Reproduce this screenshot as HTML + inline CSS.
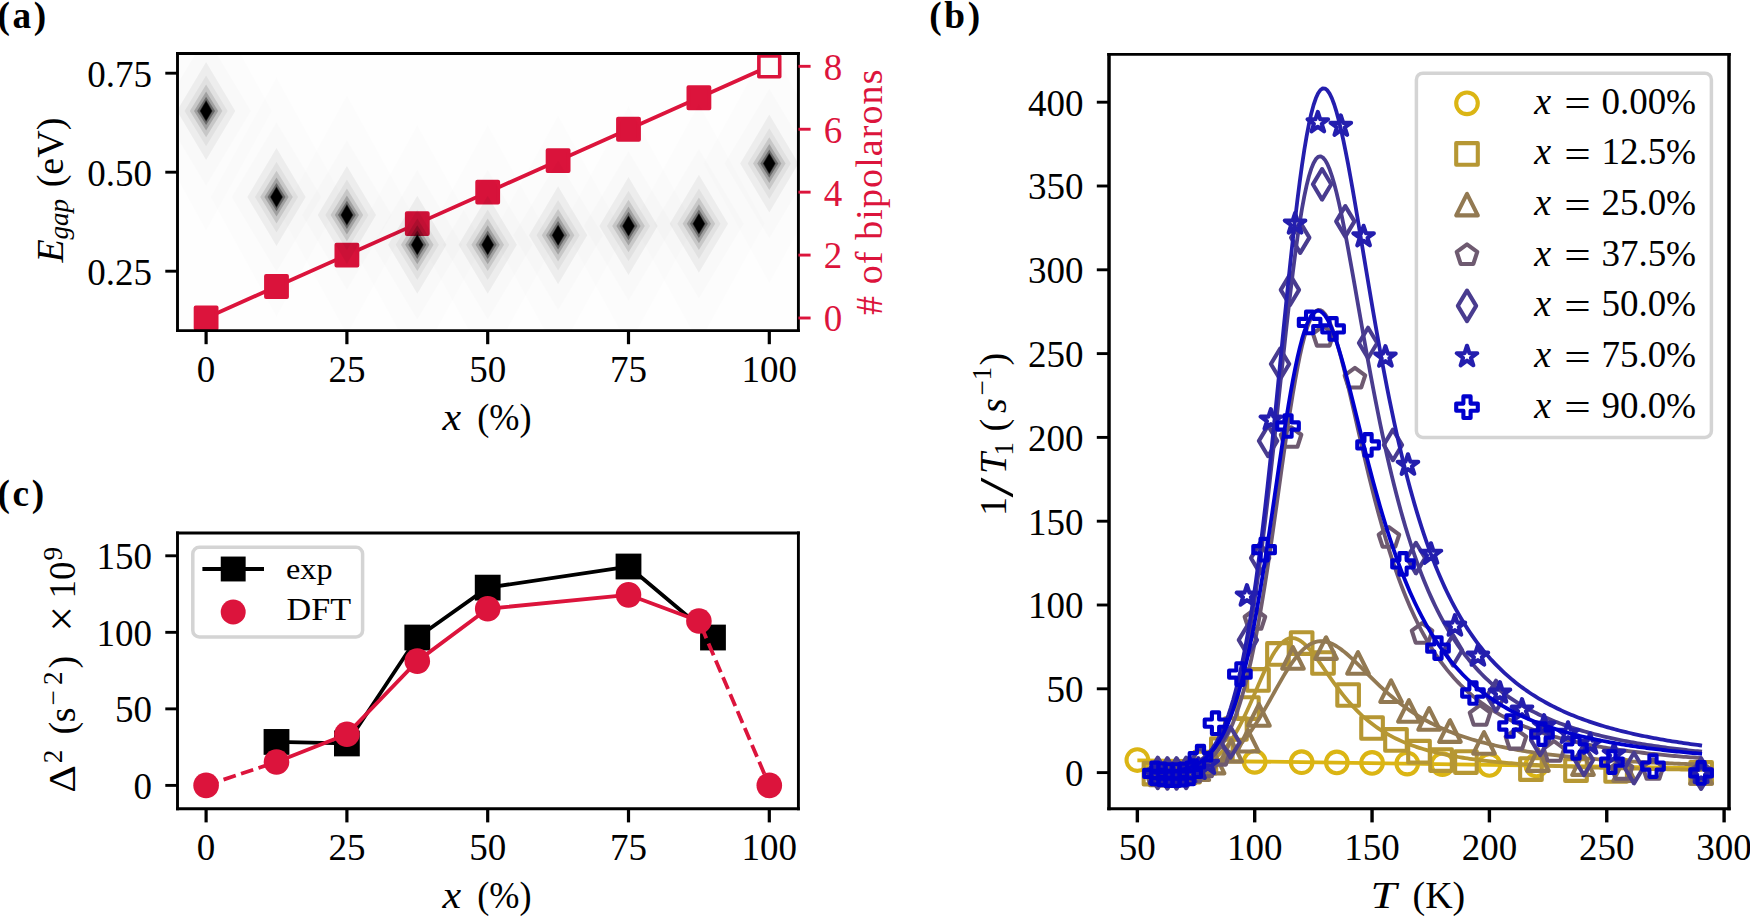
<!DOCTYPE html>
<html lang="en"><head><meta charset="utf-8"><title>Figure</title>
<style>html,body{margin:0;padding:0;background:#fff}svg{display:block}</style></head>
<body>
<svg width="1750" height="917" viewBox="0 0 1750 917" font-family='"Liberation Serif", "DejaVu Serif", serif'>
<rect width="1750" height="917" fill="#fff"/>
<clipPath id="ca"><rect x="177.5" y="53.5" width="620.9" height="277.1"/></clipPath>
<g clip-path="url(#ca)">
<rect x="177.5" y="53.5" width="620.9" height="277.1" fill="#fefefe"/>
<polyline points="206.1,318 276.5,286.54 346.9,255.08 417.3,223.62 487.7,192.16 558.1,160.7 628.5,129.24 698.9,97.78 769.3,66.32" fill="none" stroke="#DC143C" stroke-width="3.8"/>
<rect x="195.69" y="307.58" width="20.83" height="20.83" fill="#DC143C" stroke="#DC143C" stroke-width="4" stroke-linejoin="round"/>
<rect x="266.08" y="276.12" width="20.83" height="20.83" fill="#DC143C" stroke="#DC143C" stroke-width="4" stroke-linejoin="round"/>
<rect x="336.48" y="244.66" width="20.83" height="20.83" fill="#DC143C" stroke="#DC143C" stroke-width="4" stroke-linejoin="round"/>
<rect x="406.88" y="213.21" width="20.83" height="20.83" fill="#DC143C" stroke="#DC143C" stroke-width="4" stroke-linejoin="round"/>
<rect x="477.28" y="181.75" width="20.83" height="20.83" fill="#DC143C" stroke="#DC143C" stroke-width="4" stroke-linejoin="round"/>
<rect x="547.69" y="150.28" width="20.83" height="20.83" fill="#DC143C" stroke="#DC143C" stroke-width="4" stroke-linejoin="round"/>
<rect x="618.09" y="118.83" width="20.83" height="20.83" fill="#DC143C" stroke="#DC143C" stroke-width="4" stroke-linejoin="round"/>
<rect x="688.49" y="87.37" width="20.83" height="20.83" fill="#DC143C" stroke="#DC143C" stroke-width="4" stroke-linejoin="round"/>
<rect x="758.88" y="55.9" width="20.83" height="20.83" fill="#fff" stroke="#DC143C" stroke-width="3.6" stroke-linejoin="round"/>
<polygon points="206.1,-9.1 272.1,110.9 206.1,230.9 140.1,110.9" fill="#000" fill-opacity="0.006"/>
<polygon points="206.1,35.9 251.1,110.9 206.1,185.9 161.1,110.9" fill="#000" fill-opacity="0.012"/>
<polygon points="206.1,61.9 235.3,110.9 206.1,159.9 176.9,110.9" fill="#000" fill-opacity="0.0464"/>
<polygon points="206.1,75.6 227.7,110.9 206.1,146.2 184.5,110.9" fill="#000" fill-opacity="0.0486"/>
<polygon points="206.1,84.6 222.4,110.9 206.1,137.2 189.8,110.9" fill="#000" fill-opacity="0.1136"/>
<polygon points="206.1,91.4 218.2,110.9 206.1,130.4 194,110.9" fill="#000" fill-opacity="0.1923"/>
<polygon points="206.1,96.7 215.1,110.9 206.1,125.1 197.1,110.9" fill="#000" fill-opacity="0.3333"/>
<polygon points="206.1,100.1 212.5,110.9 206.1,121.7 199.7,110.9" fill="#000" fill-opacity="0.5714"/>
<polygon points="206.1,101.2 211.8,110.9 206.1,120.6 200.4,110.9" fill="#000" fill-opacity="1.0"/>
<polygon points="276.5,77.1 342.5,197.1 276.5,317.1 210.5,197.1" fill="#000" fill-opacity="0.006"/>
<polygon points="276.5,122.1 321.5,197.1 276.5,272.1 231.5,197.1" fill="#000" fill-opacity="0.012"/>
<polygon points="276.5,148.1 305.7,197.1 276.5,246.1 247.3,197.1" fill="#000" fill-opacity="0.0464"/>
<polygon points="276.5,161.8 298.1,197.1 276.5,232.4 254.9,197.1" fill="#000" fill-opacity="0.0486"/>
<polygon points="276.5,170.8 292.8,197.1 276.5,223.4 260.2,197.1" fill="#000" fill-opacity="0.1136"/>
<polygon points="276.5,177.6 288.6,197.1 276.5,216.6 264.4,197.1" fill="#000" fill-opacity="0.1923"/>
<polygon points="276.5,182.9 285.5,197.1 276.5,211.3 267.5,197.1" fill="#000" fill-opacity="0.3333"/>
<polygon points="276.5,186.3 282.9,197.1 276.5,207.9 270.1,197.1" fill="#000" fill-opacity="0.5714"/>
<polygon points="276.5,187.4 282.2,197.1 276.5,206.8 270.8,197.1" fill="#000" fill-opacity="1.0"/>
<polygon points="346.9,94.9 412.9,214.9 346.9,334.9 280.9,214.9" fill="#000" fill-opacity="0.006"/>
<polygon points="346.9,139.9 391.9,214.9 346.9,289.9 301.9,214.9" fill="#000" fill-opacity="0.012"/>
<polygon points="346.9,165.9 376.1,214.9 346.9,263.9 317.7,214.9" fill="#000" fill-opacity="0.0464"/>
<polygon points="346.9,179.6 368.5,214.9 346.9,250.2 325.3,214.9" fill="#000" fill-opacity="0.0486"/>
<polygon points="346.9,188.6 363.2,214.9 346.9,241.2 330.6,214.9" fill="#000" fill-opacity="0.1136"/>
<polygon points="346.9,195.4 359,214.9 346.9,234.4 334.8,214.9" fill="#000" fill-opacity="0.1923"/>
<polygon points="346.9,200.7 355.9,214.9 346.9,229.1 337.9,214.9" fill="#000" fill-opacity="0.3333"/>
<polygon points="346.9,204.1 353.3,214.9 346.9,225.7 340.5,214.9" fill="#000" fill-opacity="0.5714"/>
<polygon points="346.9,205.2 352.6,214.9 346.9,224.6 341.2,214.9" fill="#000" fill-opacity="1.0"/>
<polygon points="417.3,124.8 483.3,244.8 417.3,364.8 351.3,244.8" fill="#000" fill-opacity="0.006"/>
<polygon points="417.3,169.8 462.3,244.8 417.3,319.8 372.3,244.8" fill="#000" fill-opacity="0.012"/>
<polygon points="417.3,195.8 446.5,244.8 417.3,293.8 388.1,244.8" fill="#000" fill-opacity="0.0464"/>
<polygon points="417.3,209.5 438.9,244.8 417.3,280.1 395.7,244.8" fill="#000" fill-opacity="0.0486"/>
<polygon points="417.3,218.5 433.6,244.8 417.3,271.1 401,244.8" fill="#000" fill-opacity="0.1136"/>
<polygon points="417.3,225.3 429.4,244.8 417.3,264.3 405.2,244.8" fill="#000" fill-opacity="0.1923"/>
<polygon points="417.3,230.6 426.3,244.8 417.3,259 408.3,244.8" fill="#000" fill-opacity="0.3333"/>
<polygon points="417.3,234 423.7,244.8 417.3,255.6 410.9,244.8" fill="#000" fill-opacity="0.5714"/>
<polygon points="417.3,235.1 423,244.8 417.3,254.5 411.6,244.8" fill="#000" fill-opacity="1.0"/>
<polygon points="487.7,124.8 553.7,244.8 487.7,364.8 421.7,244.8" fill="#000" fill-opacity="0.006"/>
<polygon points="487.7,169.8 532.7,244.8 487.7,319.8 442.7,244.8" fill="#000" fill-opacity="0.012"/>
<polygon points="487.7,195.8 516.9,244.8 487.7,293.8 458.5,244.8" fill="#000" fill-opacity="0.0464"/>
<polygon points="487.7,209.5 509.3,244.8 487.7,280.1 466.1,244.8" fill="#000" fill-opacity="0.0486"/>
<polygon points="487.7,218.5 504,244.8 487.7,271.1 471.4,244.8" fill="#000" fill-opacity="0.1136"/>
<polygon points="487.7,225.3 499.8,244.8 487.7,264.3 475.6,244.8" fill="#000" fill-opacity="0.1923"/>
<polygon points="487.7,230.6 496.7,244.8 487.7,259 478.7,244.8" fill="#000" fill-opacity="0.3333"/>
<polygon points="487.7,234 494.1,244.8 487.7,255.6 481.3,244.8" fill="#000" fill-opacity="0.5714"/>
<polygon points="487.7,235.1 493.4,244.8 487.7,254.5 482,244.8" fill="#000" fill-opacity="1.0"/>
<polygon points="558.1,115.2 624.1,235.2 558.1,355.2 492.1,235.2" fill="#000" fill-opacity="0.006"/>
<polygon points="558.1,160.2 603.1,235.2 558.1,310.2 513.1,235.2" fill="#000" fill-opacity="0.012"/>
<polygon points="558.1,186.2 587.3,235.2 558.1,284.2 528.9,235.2" fill="#000" fill-opacity="0.0464"/>
<polygon points="558.1,199.9 579.7,235.2 558.1,270.5 536.5,235.2" fill="#000" fill-opacity="0.0486"/>
<polygon points="558.1,208.9 574.4,235.2 558.1,261.5 541.8,235.2" fill="#000" fill-opacity="0.1136"/>
<polygon points="558.1,215.7 570.2,235.2 558.1,254.7 546,235.2" fill="#000" fill-opacity="0.1923"/>
<polygon points="558.1,221 567.1,235.2 558.1,249.4 549.1,235.2" fill="#000" fill-opacity="0.3333"/>
<polygon points="558.1,224.4 564.5,235.2 558.1,246 551.7,235.2" fill="#000" fill-opacity="0.5714"/>
<polygon points="558.1,225.5 563.8,235.2 558.1,244.9 552.4,235.2" fill="#000" fill-opacity="1.0"/>
<polygon points="628.5,106 694.5,226 628.5,346 562.5,226" fill="#000" fill-opacity="0.006"/>
<polygon points="628.5,151 673.5,226 628.5,301 583.5,226" fill="#000" fill-opacity="0.012"/>
<polygon points="628.5,177 657.7,226 628.5,275 599.3,226" fill="#000" fill-opacity="0.0464"/>
<polygon points="628.5,190.7 650.1,226 628.5,261.3 606.9,226" fill="#000" fill-opacity="0.0486"/>
<polygon points="628.5,199.7 644.8,226 628.5,252.3 612.2,226" fill="#000" fill-opacity="0.1136"/>
<polygon points="628.5,206.5 640.6,226 628.5,245.5 616.4,226" fill="#000" fill-opacity="0.1923"/>
<polygon points="628.5,211.8 637.5,226 628.5,240.2 619.5,226" fill="#000" fill-opacity="0.3333"/>
<polygon points="628.5,215.2 634.9,226 628.5,236.8 622.1,226" fill="#000" fill-opacity="0.5714"/>
<polygon points="628.5,216.3 634.2,226 628.5,235.7 622.8,226" fill="#000" fill-opacity="1.0"/>
<polygon points="698.9,103.7 764.9,223.7 698.9,343.7 632.9,223.7" fill="#000" fill-opacity="0.006"/>
<polygon points="698.9,148.7 743.9,223.7 698.9,298.7 653.9,223.7" fill="#000" fill-opacity="0.012"/>
<polygon points="698.9,174.7 728.1,223.7 698.9,272.7 669.7,223.7" fill="#000" fill-opacity="0.0464"/>
<polygon points="698.9,188.4 720.5,223.7 698.9,259 677.3,223.7" fill="#000" fill-opacity="0.0486"/>
<polygon points="698.9,197.4 715.2,223.7 698.9,250 682.6,223.7" fill="#000" fill-opacity="0.1136"/>
<polygon points="698.9,204.2 711,223.7 698.9,243.2 686.8,223.7" fill="#000" fill-opacity="0.1923"/>
<polygon points="698.9,209.5 707.9,223.7 698.9,237.9 689.9,223.7" fill="#000" fill-opacity="0.3333"/>
<polygon points="698.9,212.9 705.3,223.7 698.9,234.5 692.5,223.7" fill="#000" fill-opacity="0.5714"/>
<polygon points="698.9,214 704.6,223.7 698.9,233.4 693.2,223.7" fill="#000" fill-opacity="1.0"/>
<polygon points="769.3,43.6 835.3,163.6 769.3,283.6 703.3,163.6" fill="#000" fill-opacity="0.006"/>
<polygon points="769.3,88.6 814.3,163.6 769.3,238.6 724.3,163.6" fill="#000" fill-opacity="0.012"/>
<polygon points="769.3,114.6 798.5,163.6 769.3,212.6 740.1,163.6" fill="#000" fill-opacity="0.0464"/>
<polygon points="769.3,128.3 790.9,163.6 769.3,198.9 747.7,163.6" fill="#000" fill-opacity="0.0486"/>
<polygon points="769.3,137.3 785.6,163.6 769.3,189.9 753,163.6" fill="#000" fill-opacity="0.1136"/>
<polygon points="769.3,144.1 781.4,163.6 769.3,183.1 757.2,163.6" fill="#000" fill-opacity="0.1923"/>
<polygon points="769.3,149.4 778.3,163.6 769.3,177.8 760.3,163.6" fill="#000" fill-opacity="0.3333"/>
<polygon points="769.3,152.8 775.7,163.6 769.3,174.4 762.9,163.6" fill="#000" fill-opacity="0.5714"/>
<polygon points="769.3,153.9 775,163.6 769.3,173.3 763.6,163.6" fill="#000" fill-opacity="1.0"/>
</g>
<line x1="177.5" y1="52.05" x2="177.5" y2="332.05" stroke="#000" stroke-width="2.9"/>
<line x1="798.4" y1="52.05" x2="798.4" y2="332.05" stroke="#000" stroke-width="2.9"/>
<line x1="176.05" y1="53.5" x2="799.85" y2="53.5" stroke="#000" stroke-width="2.9"/>
<line x1="176.05" y1="330.6" x2="799.85" y2="330.6" stroke="#000" stroke-width="2.9"/>
<line x1="206.1" y1="330.6" x2="206.1" y2="344.2" stroke="#000" stroke-width="3.2"/>
<text x="206.1" y="382" font-size="37" text-anchor="middle" fill="#000">0</text>
<line x1="346.9" y1="330.6" x2="346.9" y2="344.2" stroke="#000" stroke-width="3.2"/>
<text x="346.9" y="382" font-size="37" text-anchor="middle" fill="#000">25</text>
<line x1="487.7" y1="330.6" x2="487.7" y2="344.2" stroke="#000" stroke-width="3.2"/>
<text x="487.7" y="382" font-size="37" text-anchor="middle" fill="#000">50</text>
<line x1="628.5" y1="330.6" x2="628.5" y2="344.2" stroke="#000" stroke-width="3.2"/>
<text x="628.5" y="382" font-size="37" text-anchor="middle" fill="#000">75</text>
<line x1="769.3" y1="330.6" x2="769.3" y2="344.2" stroke="#000" stroke-width="3.2"/>
<text x="769.3" y="382" font-size="37" text-anchor="middle" fill="#000">100</text>
<line x1="165.3" y1="73.2" x2="177.5" y2="73.2" stroke="#000" stroke-width="2.9"/>
<text x="151.9" y="86.6" font-size="37" text-anchor="end" fill="#000">0.75</text>
<line x1="165.3" y1="172.2" x2="177.5" y2="172.2" stroke="#000" stroke-width="2.9"/>
<text x="151.9" y="185.6" font-size="37" text-anchor="end" fill="#000">0.50</text>
<line x1="165.3" y1="271.2" x2="177.5" y2="271.2" stroke="#000" stroke-width="2.9"/>
<text x="151.9" y="284.6" font-size="37" text-anchor="end" fill="#000">0.25</text>
<line x1="798.4" y1="318" x2="810.6" y2="318" stroke="#DC143C" stroke-width="2.9"/>
<text x="823.7" y="331.4" font-size="37" text-anchor="start" fill="#DC143C">0</text>
<line x1="798.4" y1="255.08" x2="810.6" y2="255.08" stroke="#DC143C" stroke-width="2.9"/>
<text x="823.7" y="268.48" font-size="37" text-anchor="start" fill="#DC143C">2</text>
<line x1="798.4" y1="192.16" x2="810.6" y2="192.16" stroke="#DC143C" stroke-width="2.9"/>
<text x="823.7" y="205.56" font-size="37" text-anchor="start" fill="#DC143C">4</text>
<line x1="798.4" y1="129.24" x2="810.6" y2="129.24" stroke="#DC143C" stroke-width="2.9"/>
<text x="823.7" y="142.64" font-size="37" text-anchor="start" fill="#DC143C">6</text>
<line x1="798.4" y1="66.32" x2="810.6" y2="66.32" stroke="#DC143C" stroke-width="2.9"/>
<text x="823.7" y="79.72" font-size="37" text-anchor="start" fill="#DC143C">8</text>
<text x="442.5" y="430.3" font-size="38" text-anchor="start" fill="#000" font-style="italic" textLength="18.6" lengthAdjust="spacingAndGlyphs">x</text>
<text x="477.3" y="430.3" font-size="38" text-anchor="start" fill="#000" textLength="54.3" lengthAdjust="spacingAndGlyphs">(%)</text>
<g transform="translate(63.4,262.6) rotate(-90)">
<text x="0" y="0" font-size="38" text-anchor="start" fill="#000" font-style="italic">E</text>
<text x="23" y="4.6" font-size="27" text-anchor="start" fill="#000" font-style="italic">gap</text>
<text x="75.3" y="0" font-size="38" text-anchor="start" fill="#000">(eV)</text>
</g>
<g transform="translate(881.6,314.9) rotate(-90)">
<text x="0" y="0" font-size="38" text-anchor="start" fill="#DC143C" textLength="245.4" lengthAdjust="spacing"># of bipolarons</text>
</g>
<text x="-2.5" y="28" font-size="37.3" text-anchor="start" fill="#000" font-weight="bold" textLength="48.6" lengthAdjust="spacing">(a)</text>
<clipPath id="cc"><rect x="177.5" y="533" width="620.9" height="275.8"/></clipPath>
<g clip-path="url(#cc)">
<polyline points="276.5,741.93 346.9,743.46 417.3,637.53 487.7,587.63 628.5,566.51 712.98,637.53" fill="none" stroke="#000" stroke-width="3.8" stroke-linejoin="round"/>
<rect x="263.6" y="729.03" width="25.8" height="25.8" fill="#000"/>
<rect x="334" y="730.56" width="25.8" height="25.8" fill="#000"/>
<rect x="404.4" y="624.63" width="25.8" height="25.8" fill="#000"/>
<rect x="474.8" y="574.73" width="25.8" height="25.8" fill="#000"/>
<rect x="615.6" y="553.61" width="25.8" height="25.8" fill="#000"/>
<rect x="700.08" y="624.63" width="25.8" height="25.8" fill="#000"/>
<polyline points="276.5,761.98 346.9,734.27 417.3,661.11 487.7,608.76 628.5,594.83 698.9,621" fill="none" stroke="#DC143C" stroke-width="3.8" stroke-linejoin="round"/>
<polyline points="206.1,785.4 276.5,761.98" fill="none" stroke="#DC143C" stroke-width="3.8" stroke-dasharray="12.85 5.55"/>
<polyline points="769.3,785.4 698.9,621" fill="none" stroke="#DC143C" stroke-width="3.8" stroke-dasharray="12.85 5.55" stroke-dashoffset="5.65"/>
<circle cx="206.1" cy="785.4" r="12.8" fill="#DC143C"/>
<circle cx="276.5" cy="761.98" r="12.8" fill="#DC143C"/>
<circle cx="346.9" cy="734.27" r="12.8" fill="#DC143C"/>
<circle cx="417.3" cy="661.11" r="12.8" fill="#DC143C"/>
<circle cx="487.7" cy="608.76" r="12.8" fill="#DC143C"/>
<circle cx="628.5" cy="594.83" r="12.8" fill="#DC143C"/>
<circle cx="698.9" cy="621" r="12.8" fill="#DC143C"/>
<circle cx="769.3" cy="785.4" r="12.8" fill="#DC143C"/>
</g>
<rect x="192.8" y="547.3" width="169.8" height="89.6" rx="6.5" fill="#fff" fill-opacity="0.8" stroke="#d4d4d4" stroke-width="3.5"/>
<line x1="202.4" y1="569" x2="264" y2="569" stroke="#000" stroke-width="3.8"/>
<rect x="220.75" y="556.55" width="24.9" height="24.9" fill="#000"/>
<circle cx="233.2" cy="612" r="12.5" fill="#DC143C"/>
<text x="286" y="579" font-size="30" text-anchor="start" fill="#000" textLength="46.5" lengthAdjust="spacingAndGlyphs">exp</text>
<text x="286.6" y="620" font-size="30.5" text-anchor="start" fill="#000" textLength="64.5" lengthAdjust="spacingAndGlyphs">DFT</text>
<line x1="177.5" y1="531.55" x2="177.5" y2="810.25" stroke="#000" stroke-width="2.9"/>
<line x1="798.4" y1="531.55" x2="798.4" y2="810.25" stroke="#000" stroke-width="2.9"/>
<line x1="176.05" y1="533" x2="799.85" y2="533" stroke="#000" stroke-width="2.9"/>
<line x1="176.05" y1="808.8" x2="799.85" y2="808.8" stroke="#000" stroke-width="2.9"/>
<line x1="206.1" y1="808.8" x2="206.1" y2="822.4" stroke="#000" stroke-width="3.2"/>
<text x="206.1" y="860.2" font-size="37" text-anchor="middle" fill="#000">0</text>
<line x1="346.9" y1="808.8" x2="346.9" y2="822.4" stroke="#000" stroke-width="3.2"/>
<text x="346.9" y="860.2" font-size="37" text-anchor="middle" fill="#000">25</text>
<line x1="487.7" y1="808.8" x2="487.7" y2="822.4" stroke="#000" stroke-width="3.2"/>
<text x="487.7" y="860.2" font-size="37" text-anchor="middle" fill="#000">50</text>
<line x1="628.5" y1="808.8" x2="628.5" y2="822.4" stroke="#000" stroke-width="3.2"/>
<text x="628.5" y="860.2" font-size="37" text-anchor="middle" fill="#000">75</text>
<line x1="769.3" y1="808.8" x2="769.3" y2="822.4" stroke="#000" stroke-width="3.2"/>
<text x="769.3" y="860.2" font-size="37" text-anchor="middle" fill="#000">100</text>
<line x1="165.3" y1="785.4" x2="177.5" y2="785.4" stroke="#000" stroke-width="2.9"/>
<text x="151.9" y="798.8" font-size="37" text-anchor="end" fill="#000">0</text>
<line x1="165.3" y1="708.87" x2="177.5" y2="708.87" stroke="#000" stroke-width="2.9"/>
<text x="151.9" y="722.26" font-size="37" text-anchor="end" fill="#000">50</text>
<line x1="165.3" y1="632.33" x2="177.5" y2="632.33" stroke="#000" stroke-width="2.9"/>
<text x="151.9" y="645.73" font-size="37" text-anchor="end" fill="#000">100</text>
<line x1="165.3" y1="555.79" x2="177.5" y2="555.79" stroke="#000" stroke-width="2.9"/>
<text x="151.9" y="569.19" font-size="37" text-anchor="end" fill="#000">150</text>
<text x="442.5" y="907.6" font-size="38" text-anchor="start" fill="#000" font-style="italic" textLength="18.6" lengthAdjust="spacingAndGlyphs">x</text>
<text x="477.3" y="907.6" font-size="38" text-anchor="start" fill="#000" textLength="54.3" lengthAdjust="spacingAndGlyphs">(%)</text>
<g transform="translate(75.2,795) rotate(-90)">
<text x="2.2" y="0" font-size="38" text-anchor="start" fill="#000" textLength="27.5" lengthAdjust="spacingAndGlyphs">Δ</text>
<text x="31.8" y="-13.5" font-size="27" text-anchor="start" fill="#000">2</text>
<text x="60.5" y="0" font-size="38" text-anchor="start" fill="#000">(</text>
<text x="72.8" y="0" font-size="38" text-anchor="start" fill="#000">s</text>
<text x="89.5" y="-13.5" font-size="27" text-anchor="start" fill="#000">−</text>
<text x="110" y="-13.5" font-size="27" text-anchor="start" fill="#000">2</text>
<text x="126.5" y="0" font-size="38" text-anchor="start" fill="#000">)</text>
<text x="163.2" y="1.5" font-size="46" text-anchor="start" fill="#000">×</text>
<text x="196.5" y="0" font-size="37" text-anchor="start" fill="#000">10</text>
<text x="234.4" y="-13.5" font-size="27" text-anchor="start" fill="#000">9</text>
</g>
<text x="-2.5" y="506.2" font-size="37.3" text-anchor="start" fill="#000" font-weight="bold" textLength="46.6" lengthAdjust="spacing">(c)</text>
<clipPath id="cb"><rect x="1109" y="54.4" width="620" height="754.4"/></clipPath>
<g clip-path="url(#cb)">
<circle cx="1137.35" cy="760.03" r="10.8" fill="none" stroke="#dbb514" stroke-width="4.1" stroke-linejoin="round"/>
<circle cx="1254.7" cy="761.87" r="10.8" fill="none" stroke="#dbb514" stroke-width="4.1" stroke-linejoin="round"/>
<circle cx="1301.64" cy="762.21" r="10.8" fill="none" stroke="#dbb514" stroke-width="4.1" stroke-linejoin="round"/>
<circle cx="1336.85" cy="762.38" r="10.8" fill="none" stroke="#dbb514" stroke-width="4.1" stroke-linejoin="round"/>
<circle cx="1372.05" cy="762.88" r="10.8" fill="none" stroke="#dbb514" stroke-width="4.1" stroke-linejoin="round"/>
<circle cx="1407.26" cy="763.55" r="10.8" fill="none" stroke="#dbb514" stroke-width="4.1" stroke-linejoin="round"/>
<circle cx="1442.46" cy="764.22" r="10.8" fill="none" stroke="#dbb514" stroke-width="4.1" stroke-linejoin="round"/>
<circle cx="1489.4" cy="764.89" r="10.8" fill="none" stroke="#dbb514" stroke-width="4.1" stroke-linejoin="round"/>
<circle cx="1536.34" cy="765.39" r="10.8" fill="none" stroke="#dbb514" stroke-width="4.1" stroke-linejoin="round"/>
<polyline points="1137.35,760.37 1301.64,762.04 1489.4,764.89 1702.04,768.07" fill="none" stroke="#dbb514" stroke-width="3.8"/>
<rect x="1143.68" y="762.81" width="21.6" height="21.6" fill="none" stroke="#b69733" stroke-width="4.1" stroke-linejoin="round"/>
<rect x="1154.71" y="763.48" width="21.6" height="21.6" fill="none" stroke="#b69733" stroke-width="4.1" stroke-linejoin="round"/>
<rect x="1166.45" y="762.64" width="21.6" height="21.6" fill="none" stroke="#b69733" stroke-width="4.1" stroke-linejoin="round"/>
<rect x="1178.18" y="760.96" width="21.6" height="21.6" fill="none" stroke="#b69733" stroke-width="4.1" stroke-linejoin="round"/>
<rect x="1194.61" y="751.74" width="21.6" height="21.6" fill="none" stroke="#b69733" stroke-width="4.1" stroke-linejoin="round"/>
<rect x="1211.04" y="738.34" width="21.6" height="21.6" fill="none" stroke="#b69733" stroke-width="4.1" stroke-linejoin="round"/>
<rect x="1225.12" y="718.22" width="21.6" height="21.6" fill="none" stroke="#b69733" stroke-width="4.1" stroke-linejoin="round"/>
<rect x="1237.09" y="697.27" width="21.6" height="21.6" fill="none" stroke="#b69733" stroke-width="4.1" stroke-linejoin="round"/>
<rect x="1247.19" y="669.12" width="21.6" height="21.6" fill="none" stroke="#b69733" stroke-width="4.1" stroke-linejoin="round"/>
<rect x="1267.14" y="643.14" width="21.6" height="21.6" fill="none" stroke="#b69733" stroke-width="4.1" stroke-linejoin="round"/>
<rect x="1290.84" y="632.25" width="21.6" height="21.6" fill="none" stroke="#b69733" stroke-width="4.1" stroke-linejoin="round"/>
<rect x="1312.2" y="652.19" width="21.6" height="21.6" fill="none" stroke="#b69733" stroke-width="4.1" stroke-linejoin="round"/>
<rect x="1337.31" y="684.2" width="21.6" height="21.6" fill="none" stroke="#b69733" stroke-width="4.1" stroke-linejoin="round"/>
<rect x="1361.25" y="717.22" width="21.6" height="21.6" fill="none" stroke="#b69733" stroke-width="4.1" stroke-linejoin="round"/>
<rect x="1385.19" y="729.12" width="21.6" height="21.6" fill="none" stroke="#b69733" stroke-width="4.1" stroke-linejoin="round"/>
<rect x="1408.19" y="740.85" width="21.6" height="21.6" fill="none" stroke="#b69733" stroke-width="4.1" stroke-linejoin="round"/>
<rect x="1430.25" y="749.23" width="21.6" height="21.6" fill="none" stroke="#b69733" stroke-width="4.1" stroke-linejoin="round"/>
<rect x="1455.13" y="751.24" width="21.6" height="21.6" fill="none" stroke="#b69733" stroke-width="4.1" stroke-linejoin="round"/>
<rect x="1520.14" y="758.28" width="21.6" height="21.6" fill="none" stroke="#b69733" stroke-width="4.1" stroke-linejoin="round"/>
<rect x="1565.2" y="759.29" width="21.6" height="21.6" fill="none" stroke="#b69733" stroke-width="4.1" stroke-linejoin="round"/>
<rect x="1605.34" y="760.12" width="21.6" height="21.6" fill="none" stroke="#b69733" stroke-width="4.1" stroke-linejoin="round"/>
<rect x="1690.3" y="762.14" width="21.6" height="21.6" fill="none" stroke="#b69733" stroke-width="4.1" stroke-linejoin="round"/>
<polyline points="1152.61,772.51 1154.9,772.48 1157.2,772.44 1159.5,772.4 1161.8,772.34 1164.1,772.27 1166.4,772.19 1168.7,772.09 1171,771.97 1173.3,771.82 1175.59,771.65 1177.89,771.44 1180.19,771.2 1182.49,770.91 1184.79,770.58 1187.09,770.19 1189.39,769.74 1191.69,769.23 1193.99,768.64 1196.28,767.96 1198.58,767.19 1200.88,766.33 1203.18,765.34 1205.48,764.24 1207.78,763 1210.08,761.62 1212.38,760.08 1214.68,758.37 1216.97,756.48 1219.27,754.4 1221.57,752.11 1223.87,749.6 1226.17,746.87 1228.47,743.9 1230.77,740.69 1233.07,737.22 1235.37,733.5 1237.66,729.53 1239.96,725.31 1242.26,720.86 1244.56,716.18 1246.86,711.3 1249.16,706.25 1251.46,701.06 1253.76,695.77 1256.06,690.43 1258.35,685.08 1260.65,679.79 1262.95,674.61 1265.25,669.59 1267.55,664.8 1269.85,660.28 1272.15,656.09 1274.45,652.26 1276.75,648.85 1279.04,645.87 1281.34,643.35 1283.64,641.31 1285.94,639.76 1288.24,638.71 1290.54,638.13 1292.84,638.04 1295.14,638.4 1297.44,639.2 1299.73,640.4 1302.03,641.98 1304.33,643.9 1306.63,646.13 1308.93,648.61 1311.23,651.32 1313.53,654.22 1315.83,657.26 1318.12,660.41 1320.42,663.65 1322.72,666.93 1325.02,670.24 1327.32,673.55 1329.62,676.85 1331.92,680.1 1334.22,683.3 1336.52,686.45 1338.81,689.51 1341.11,692.5 1343.41,695.41 1345.71,698.22 1348.01,700.94 1350.31,703.57 1352.61,706.1 1354.91,708.54 1357.21,710.88 1359.5,713.13 1361.8,715.3 1364.1,717.37 1366.4,719.36 1368.7,721.27 1371,723.09 1373.3,724.84 1375.6,726.52 1377.9,728.13 1380.19,729.66 1382.49,731.13 1384.79,732.54 1387.09,733.89 1389.39,735.19 1391.69,736.42 1393.99,737.61 1396.29,738.75 1398.59,739.83 1400.88,740.88 1403.18,741.88 1405.48,742.84 1407.78,743.76 1410.08,744.64 1412.38,745.49 1414.68,746.3 1416.98,747.08 1419.28,747.83 1421.57,748.55 1423.87,749.24 1426.17,749.91 1428.47,750.55 1430.77,751.16 1433.07,751.76 1435.37,752.33 1437.67,752.88 1439.97,753.4 1442.26,753.91 1444.56,754.4 1446.86,754.88 1449.16,755.33 1451.46,755.77 1453.76,756.2 1456.06,756.61 1458.36,757 1460.66,757.38 1462.95,757.75 1465.25,758.11 1467.55,758.45 1469.85,758.79 1472.15,759.11 1474.45,759.42 1476.75,759.72 1479.05,760.01 1481.35,760.29 1483.64,760.57 1485.94,760.83 1488.24,761.09 1490.54,761.34 1492.84,761.58 1495.14,761.81 1497.44,762.04 1499.74,762.26 1502.04,762.47 1504.33,762.67 1506.63,762.87 1508.93,763.07 1511.23,763.26 1513.53,763.44 1515.83,763.62 1518.13,763.79 1520.43,763.96 1522.73,764.13 1525.02,764.28 1527.32,764.44 1529.62,764.59 1531.92,764.74 1534.22,764.88 1536.52,765.02 1538.82,765.15 1541.12,765.28 1543.42,765.41 1545.71,765.54 1548.01,765.66 1550.31,765.78 1552.61,765.89 1554.91,766 1557.21,766.11 1559.51,766.22 1561.81,766.32 1564.11,766.43 1566.4,766.53 1568.7,766.62 1571,766.72 1573.3,766.81 1575.6,766.9 1577.9,766.99 1580.2,767.07 1582.5,767.16 1584.8,767.24 1587.09,767.32 1589.39,767.4 1591.69,767.47 1593.99,767.55 1596.29,767.62 1598.59,767.69 1600.89,767.76 1603.19,767.83 1605.49,767.9 1607.78,767.96 1610.08,768.03 1612.38,768.09 1614.68,768.15 1616.98,768.21 1619.28,768.27 1621.58,768.33 1623.88,768.38 1626.18,768.44 1628.47,768.49 1630.77,768.55 1633.07,768.6 1635.37,768.65 1637.67,768.7 1639.97,768.75 1642.27,768.79 1644.57,768.84 1646.87,768.89 1649.16,768.93 1651.46,768.98 1653.76,769.02 1656.06,769.06 1658.36,769.1 1660.66,769.14 1662.96,769.19 1665.26,769.22 1667.55,769.26 1669.85,769.3 1672.15,769.34 1674.45,769.38 1676.75,769.41 1679.05,769.45 1681.35,769.48 1683.65,769.52 1685.95,769.55 1688.24,769.58 1690.54,769.61 1692.84,769.65 1695.14,769.68 1697.44,769.71 1699.74,769.74 1702.04,769.77" fill="none" stroke="#b69733" stroke-width="3.8" stroke-linejoin="round"/>
<polygon points="1160.82,763.48 1150.02,785.08 1171.62,785.08" fill="none" stroke="#927952" stroke-width="4.1" stroke-linejoin="round"/>
<polygon points="1172.56,763.48 1161.76,785.08 1183.36,785.08" fill="none" stroke="#927952" stroke-width="4.1" stroke-linejoin="round"/>
<polygon points="1184.29,761.8 1173.49,783.4 1195.09,783.4" fill="none" stroke="#927952" stroke-width="4.1" stroke-linejoin="round"/>
<polygon points="1198.37,758.45 1187.57,780.05 1209.17,780.05" fill="none" stroke="#927952" stroke-width="4.1" stroke-linejoin="round"/>
<polygon points="1213.63,751.74 1202.83,773.34 1224.43,773.34" fill="none" stroke="#927952" stroke-width="4.1" stroke-linejoin="round"/>
<polygon points="1231.23,740.01 1220.43,761.61 1242.03,761.61" fill="none" stroke="#927952" stroke-width="4.1" stroke-linejoin="round"/>
<polygon points="1247.89,729.96 1237.09,751.56 1258.69,751.56" fill="none" stroke="#927952" stroke-width="4.1" stroke-linejoin="round"/>
<polygon points="1258.92,704.15 1248.12,725.75 1269.72,725.75" fill="none" stroke="#927952" stroke-width="4.1" stroke-linejoin="round"/>
<polygon points="1292.96,647.16 1282.16,668.76 1303.76,668.76" fill="none" stroke="#927952" stroke-width="4.1" stroke-linejoin="round"/>
<polygon points="1326.05,637.27 1315.25,658.87 1336.85,658.87" fill="none" stroke="#927952" stroke-width="4.1" stroke-linejoin="round"/>
<polygon points="1357.97,652.19 1347.17,673.79 1368.77,673.79" fill="none" stroke="#927952" stroke-width="4.1" stroke-linejoin="round"/>
<polygon points="1391.06,680.35 1380.26,701.95 1401.86,701.95" fill="none" stroke="#927952" stroke-width="4.1" stroke-linejoin="round"/>
<polygon points="1408.9,700.12 1398.1,721.72 1419.7,721.72" fill="none" stroke="#927952" stroke-width="4.1" stroke-linejoin="round"/>
<polygon points="1429.08,708.17 1418.28,729.77 1439.88,729.77" fill="none" stroke="#927952" stroke-width="4.1" stroke-linejoin="round"/>
<polygon points="1449.97,720.24 1439.17,741.84 1460.77,741.84" fill="none" stroke="#927952" stroke-width="4.1" stroke-linejoin="round"/>
<polygon points="1484,732.13 1473.2,753.73 1494.8,753.73" fill="none" stroke="#927952" stroke-width="4.1" stroke-linejoin="round"/>
<polygon points="1537.98,749.23 1527.18,770.83 1548.78,770.83" fill="none" stroke="#927952" stroke-width="4.1" stroke-linejoin="round"/>
<polygon points="1583.05,753.25 1572.25,774.85 1593.85,774.85" fill="none" stroke="#927952" stroke-width="4.1" stroke-linejoin="round"/>
<polygon points="1624.12,759.29 1613.32,780.89 1634.92,780.89" fill="none" stroke="#927952" stroke-width="4.1" stroke-linejoin="round"/>
<polygon points="1701.1,762.14 1690.3,783.74 1711.9,783.74" fill="none" stroke="#927952" stroke-width="4.1" stroke-linejoin="round"/>
<polyline points="1152.61,772.51 1154.9,772.49 1157.2,772.45 1159.5,772.42 1161.8,772.37 1164.1,772.32 1166.4,772.25 1168.7,772.17 1171,772.08 1173.3,771.97 1175.59,771.84 1177.89,771.69 1180.19,771.51 1182.49,771.31 1184.79,771.08 1187.09,770.82 1189.39,770.51 1191.69,770.17 1193.99,769.79 1196.28,769.35 1198.58,768.86 1200.88,768.31 1203.18,767.7 1205.48,767.02 1207.78,766.27 1210.08,765.43 1212.38,764.52 1214.68,763.51 1216.97,762.4 1219.27,761.19 1221.57,759.87 1223.87,758.43 1226.17,756.88 1228.47,755.19 1230.77,753.37 1233.07,751.42 1235.37,749.32 1237.66,747.07 1239.96,744.67 1242.26,742.11 1244.56,739.4 1246.86,736.53 1249.16,733.5 1251.46,730.32 1253.76,726.99 1256.06,723.52 1258.35,719.91 1260.65,716.17 1262.95,712.33 1265.25,708.38 1267.55,704.36 1269.85,700.28 1272.15,696.17 1274.45,692.04 1276.75,687.92 1279.04,683.84 1281.34,679.82 1283.64,675.9 1285.94,672.09 1288.24,668.42 1290.54,664.92 1292.84,661.61 1295.14,658.5 1297.44,655.62 1299.73,652.98 1302.03,650.58 1304.33,648.46 1306.63,646.6 1308.93,645.01 1311.23,643.7 1313.53,642.67 1315.83,641.92 1318.12,641.43 1320.42,641.22 1322.72,641.26 1325.02,641.54 1327.32,642.06 1329.62,642.81 1331.92,643.77 1334.22,644.92 1336.52,646.24 1338.81,647.74 1341.11,649.37 1343.41,651.14 1345.71,653.03 1348.01,655.01 1350.31,657.08 1352.61,659.21 1354.91,661.41 1357.21,663.64 1359.5,665.91 1361.8,668.2 1364.1,670.5 1366.4,672.81 1368.7,675.1 1371,677.39 1373.3,679.65 1375.6,681.89 1377.9,684.1 1380.19,686.28 1382.49,688.42 1384.79,690.52 1387.09,692.58 1389.39,694.59 1391.69,696.56 1393.99,698.48 1396.29,700.35 1398.59,702.18 1400.88,703.96 1403.18,705.69 1405.48,707.37 1407.78,709.01 1410.08,710.6 1412.38,712.15 1414.68,713.65 1416.98,715.1 1419.28,716.52 1421.57,717.89 1423.87,719.22 1426.17,720.51 1428.47,721.76 1430.77,722.97 1433.07,724.15 1435.37,725.29 1437.67,726.39 1439.97,727.46 1442.26,728.5 1444.56,729.51 1446.86,730.49 1449.16,731.43 1451.46,732.35 1453.76,733.24 1456.06,734.11 1458.36,734.95 1460.66,735.76 1462.95,736.55 1465.25,737.32 1467.55,738.06 1469.85,738.78 1472.15,739.48 1474.45,740.16 1476.75,740.82 1479.05,741.47 1481.35,742.09 1483.64,742.7 1485.94,743.28 1488.24,743.86 1490.54,744.41 1492.84,744.95 1495.14,745.48 1497.44,745.99 1499.74,746.49 1502.04,746.97 1504.33,747.44 1506.63,747.9 1508.93,748.34 1511.23,748.78 1513.53,749.2 1515.83,749.61 1518.13,750.01 1520.43,750.4 1522.73,750.79 1525.02,751.16 1527.32,751.52 1529.62,751.87 1531.92,752.21 1534.22,752.55 1536.52,752.87 1538.82,753.19 1541.12,753.5 1543.42,753.81 1545.71,754.1 1548.01,754.39 1550.31,754.68 1552.61,754.95 1554.91,755.22 1557.21,755.48 1559.51,755.74 1561.81,755.99 1564.11,756.23 1566.4,756.47 1568.7,756.71 1571,756.94 1573.3,757.16 1575.6,757.38 1577.9,757.59 1580.2,757.8 1582.5,758.01 1584.8,758.21 1587.09,758.4 1589.39,758.6 1591.69,758.78 1593.99,758.97 1596.29,759.15 1598.59,759.32 1600.89,759.5 1603.19,759.66 1605.49,759.83 1607.78,759.99 1610.08,760.15 1612.38,760.31 1614.68,760.46 1616.98,760.61 1619.28,760.75 1621.58,760.9 1623.88,761.04 1626.18,761.18 1628.47,761.31 1630.77,761.45 1633.07,761.58 1635.37,761.7 1637.67,761.83 1639.97,761.95 1642.27,762.07 1644.57,762.19 1646.87,762.31 1649.16,762.42 1651.46,762.54 1653.76,762.65 1656.06,762.75 1658.36,762.86 1660.66,762.96 1662.96,763.07 1665.26,763.17 1667.55,763.27 1669.85,763.36 1672.15,763.46 1674.45,763.55 1676.75,763.65 1679.05,763.74 1681.35,763.83 1683.65,763.91 1685.95,764 1688.24,764.08 1690.54,764.17 1692.84,764.25 1695.14,764.33 1697.44,764.41 1699.74,764.49 1702.04,764.56" fill="none" stroke="#927952" stroke-width="3.8" stroke-linejoin="round"/>
<polygon points="1156.13,763.48 1166.4,770.94 1162.47,783.01 1149.78,783.01 1145.85,770.94" fill="none" stroke="#6e5a70" stroke-width="4.1" stroke-linejoin="round"/>
<polygon points="1165.51,764.31 1175.79,771.78 1171.86,783.85 1159.17,783.85 1155.24,771.78" fill="none" stroke="#6e5a70" stroke-width="4.1" stroke-linejoin="round"/>
<polygon points="1174.9,764.31 1185.17,771.78 1181.25,783.85 1168.55,783.85 1164.63,771.78" fill="none" stroke="#6e5a70" stroke-width="4.1" stroke-linejoin="round"/>
<polygon points="1184.29,763.48 1194.56,770.94 1190.64,783.01 1177.94,783.01 1174.02,770.94" fill="none" stroke="#6e5a70" stroke-width="4.1" stroke-linejoin="round"/>
<polygon points="1193.68,761.8 1203.95,769.26 1200.03,781.34 1187.33,781.34 1183.41,769.26" fill="none" stroke="#6e5a70" stroke-width="4.1" stroke-linejoin="round"/>
<polygon points="1205.41,756.77 1215.68,764.23 1211.76,776.31 1199.06,776.31 1195.14,764.23" fill="none" stroke="#6e5a70" stroke-width="4.1" stroke-linejoin="round"/>
<polygon points="1219.49,745.04 1229.77,752.5 1225.84,764.58 1213.15,764.58 1209.22,752.5" fill="none" stroke="#6e5a70" stroke-width="4.1" stroke-linejoin="round"/>
<polygon points="1254.93,609.28 1265.21,616.75 1261.28,628.82 1248.59,628.82 1244.66,616.75" fill="none" stroke="#6e5a70" stroke-width="4.1" stroke-linejoin="round"/>
<polygon points="1291.08,427.27 1301.35,434.73 1297.43,446.81 1284.73,446.81 1280.81,434.73" fill="none" stroke="#6e5a70" stroke-width="4.1" stroke-linejoin="round"/>
<polygon points="1323.23,326.04 1333.5,333.5 1329.58,345.58 1316.88,345.58 1312.96,333.5" fill="none" stroke="#6e5a70" stroke-width="4.1" stroke-linejoin="round"/>
<polygon points="1354.92,367.94 1365.19,375.4 1361.26,387.48 1348.57,387.48 1344.65,375.4" fill="none" stroke="#6e5a70" stroke-width="4.1" stroke-linejoin="round"/>
<polygon points="1388.95,527.16 1399.22,534.62 1395.3,546.7 1382.6,546.7 1378.68,534.62" fill="none" stroke="#6e5a70" stroke-width="4.1" stroke-linejoin="round"/>
<polygon points="1422.04,623.19 1432.31,630.66 1428.39,642.73 1415.69,642.73 1411.77,630.66" fill="none" stroke="#6e5a70" stroke-width="4.1" stroke-linejoin="round"/>
<polygon points="1480.01,705.15 1490.28,712.61 1486.36,724.69 1473.66,724.69 1469.74,712.61" fill="none" stroke="#6e5a70" stroke-width="4.1" stroke-linejoin="round"/>
<polygon points="1515.92,729.12 1526.19,736.58 1522.27,748.66 1509.57,748.66 1505.65,736.58" fill="none" stroke="#6e5a70" stroke-width="4.1" stroke-linejoin="round"/>
<polygon points="1553.94,741.19 1564.21,748.65 1560.29,760.72 1547.59,760.72 1543.67,748.65" fill="none" stroke="#6e5a70" stroke-width="4.1" stroke-linejoin="round"/>
<polygon points="1622.01,759.29 1632.28,766.75 1628.35,778.82 1615.66,778.82 1611.73,766.75" fill="none" stroke="#6e5a70" stroke-width="4.1" stroke-linejoin="round"/>
<polygon points="1652.99,759.29 1663.26,766.75 1659.33,778.82 1646.64,778.82 1642.71,766.75" fill="none" stroke="#6e5a70" stroke-width="4.1" stroke-linejoin="round"/>
<polygon points="1701.1,762.14 1711.37,769.6 1707.45,781.67 1694.75,781.67 1690.83,769.6" fill="none" stroke="#6e5a70" stroke-width="4.1" stroke-linejoin="round"/>
<polyline points="1152.61,772.52 1154.9,772.49 1157.2,772.46 1159.5,772.41 1161.8,772.36 1164.1,772.28 1166.4,772.2 1168.7,772.09 1171,771.96 1173.3,771.79 1175.59,771.6 1177.89,771.36 1180.19,771.08 1182.49,770.74 1184.79,770.35 1187.09,769.88 1189.39,769.33 1191.69,768.7 1193.99,767.95 1196.28,767.1 1198.58,766.11 1200.88,764.98 1203.18,763.69 1205.48,762.22 1207.78,760.56 1210.08,758.68 1212.38,756.55 1214.68,754.17 1216.97,751.51 1219.27,748.53 1221.57,745.22 1223.87,741.54 1226.17,737.48 1228.47,732.99 1230.77,728.06 1233.07,722.64 1235.37,716.71 1237.66,710.25 1239.96,703.21 1242.26,695.57 1244.56,687.3 1246.86,678.39 1249.16,668.81 1251.46,658.54 1253.76,647.57 1256.06,635.9 1258.35,623.54 1260.65,610.5 1262.95,596.8 1265.25,582.48 1267.55,567.6 1269.85,552.21 1272.15,536.39 1274.45,520.25 1276.75,503.87 1279.04,487.4 1281.34,470.94 1283.64,454.64 1285.94,438.63 1288.24,423.07 1290.54,408.08 1292.84,393.8 1295.14,380.35 1297.44,367.86 1299.73,356.41 1302.03,346.11 1304.33,337.01 1306.63,329.19 1308.93,322.67 1311.23,317.48 1313.53,313.65 1315.83,311.15 1318.12,309.97 1320.42,310.07 1322.72,311.42 1325.02,313.94 1327.32,317.57 1329.62,322.24 1331.92,327.84 1334.22,334.31 1336.52,341.53 1338.81,349.41 1341.11,357.86 1343.41,366.78 1345.71,376.1 1348.01,385.71 1350.31,395.55 1352.61,405.53 1354.91,415.61 1357.21,425.71 1359.5,435.78 1361.8,445.78 1364.1,455.67 1366.4,465.42 1368.7,474.99 1371,484.37 1373.3,493.53 1375.6,502.47 1377.9,511.17 1380.19,519.61 1382.49,527.81 1384.79,535.75 1387.09,543.44 1389.39,550.87 1391.69,558.05 1393.99,564.97 1396.29,571.66 1398.59,578.1 1400.88,584.31 1403.18,590.29 1405.48,596.05 1407.78,601.6 1410.08,606.93 1412.38,612.07 1414.68,617.02 1416.98,621.77 1419.28,626.35 1421.57,630.76 1423.87,635 1426.17,639.08 1428.47,643 1430.77,646.78 1433.07,650.42 1435.37,653.92 1437.67,657.3 1439.97,660.55 1442.26,663.67 1444.56,666.69 1446.86,669.59 1449.16,672.39 1451.46,675.09 1453.76,677.7 1456.06,680.2 1458.36,682.63 1460.66,684.96 1462.95,687.22 1465.25,689.39 1467.55,691.49 1469.85,693.52 1472.15,695.48 1474.45,697.38 1476.75,699.21 1479.05,700.98 1481.35,702.69 1483.64,704.34 1485.94,705.94 1488.24,707.49 1490.54,708.99 1492.84,710.44 1495.14,711.85 1497.44,713.21 1499.74,714.53 1502.04,715.8 1504.33,717.04 1506.63,718.24 1508.93,719.41 1511.23,720.53 1513.53,721.63 1515.83,722.69 1518.13,723.72 1520.43,724.72 1522.73,725.69 1525.02,726.64 1527.32,727.55 1529.62,728.44 1531.92,729.31 1534.22,730.15 1536.52,730.97 1538.82,731.76 1541.12,732.54 1543.42,733.29 1545.71,734.02 1548.01,734.73 1550.31,735.42 1552.61,736.1 1554.91,736.75 1557.21,737.39 1559.51,738.02 1561.81,738.62 1564.11,739.21 1566.4,739.79 1568.7,740.35 1571,740.9 1573.3,741.43 1575.6,741.95 1577.9,742.46 1580.2,742.95 1582.5,743.44 1584.8,743.91 1587.09,744.37 1589.39,744.82 1591.69,745.26 1593.99,745.68 1596.29,746.1 1598.59,746.51 1600.89,746.91 1603.19,747.3 1605.49,747.68 1607.78,748.05 1610.08,748.42 1612.38,748.77 1614.68,749.12 1616.98,749.46 1619.28,749.79 1621.58,750.12 1623.88,750.44 1626.18,750.75 1628.47,751.05 1630.77,751.35 1633.07,751.64 1635.37,751.93 1637.67,752.21 1639.97,752.48 1642.27,752.75 1644.57,753.01 1646.87,753.27 1649.16,753.52 1651.46,753.77 1653.76,754.01 1656.06,754.25 1658.36,754.48 1660.66,754.71 1662.96,754.94 1665.26,755.16 1667.55,755.37 1669.85,755.58 1672.15,755.79 1674.45,755.99 1676.75,756.19 1679.05,756.39 1681.35,756.58 1683.65,756.77 1685.95,756.95 1688.24,757.13 1690.54,757.31 1692.84,757.48 1695.14,757.66 1697.44,757.82 1699.74,757.99 1702.04,758.15" fill="none" stroke="#6e5a70" stroke-width="3.8" stroke-linejoin="round"/>
<polygon points="1157.77,757.66 1166.93,772.94 1157.77,788.21 1148.6,772.94" fill="none" stroke="#493c8f" stroke-width="4.1" stroke-linejoin="round"/>
<polygon points="1167.39,758.16 1176.56,773.44 1167.39,788.71 1158.23,773.44" fill="none" stroke="#493c8f" stroke-width="4.1" stroke-linejoin="round"/>
<polygon points="1176.54,758.16 1185.71,773.44 1176.54,788.71 1167.38,773.44" fill="none" stroke="#493c8f" stroke-width="4.1" stroke-linejoin="round"/>
<polygon points="1186.17,757.66 1195.33,772.94 1186.17,788.21 1177,772.94" fill="none" stroke="#493c8f" stroke-width="4.1" stroke-linejoin="round"/>
<polygon points="1200.01,746.43 1209.18,761.71 1200.01,776.98 1190.85,761.71" fill="none" stroke="#493c8f" stroke-width="4.1" stroke-linejoin="round"/>
<polygon points="1230.53,727.16 1239.69,742.43 1230.53,757.71 1221.36,742.43" fill="none" stroke="#493c8f" stroke-width="4.1" stroke-linejoin="round"/>
<polygon points="1247.89,624.75 1257.06,640.03 1247.89,655.3 1238.73,640.03" fill="none" stroke="#493c8f" stroke-width="4.1" stroke-linejoin="round"/>
<polygon points="1260.1,542.8 1269.26,558.07 1260.1,573.35 1250.93,558.07" fill="none" stroke="#493c8f" stroke-width="4.1" stroke-linejoin="round"/>
<polygon points="1268.08,425.65 1277.24,440.92 1268.08,456.19 1258.91,440.92" fill="none" stroke="#493c8f" stroke-width="4.1" stroke-linejoin="round"/>
<polygon points="1280.05,348.72 1289.21,363.99 1280.05,379.26 1270.88,363.99" fill="none" stroke="#493c8f" stroke-width="4.1" stroke-linejoin="round"/>
<polygon points="1289.9,274.64 1299.07,289.91 1289.9,305.19 1280.74,289.91" fill="none" stroke="#493c8f" stroke-width="4.1" stroke-linejoin="round"/>
<polygon points="1300.23,222.35 1309.4,237.62 1300.23,252.89 1291.07,237.62" fill="none" stroke="#493c8f" stroke-width="4.1" stroke-linejoin="round"/>
<polygon points="1322.06,169.05 1331.22,184.32 1322.06,199.6 1312.89,184.32" fill="none" stroke="#493c8f" stroke-width="4.1" stroke-linejoin="round"/>
<polygon points="1345.29,206.09 1354.46,221.36 1345.29,236.64 1336.13,221.36" fill="none" stroke="#493c8f" stroke-width="4.1" stroke-linejoin="round"/>
<polygon points="1368.06,327.77 1377.22,343.04 1368.06,358.31 1358.9,343.04" fill="none" stroke="#493c8f" stroke-width="4.1" stroke-linejoin="round"/>
<polygon points="1392.94,429.67 1402.1,444.94 1392.94,460.22 1383.77,444.94" fill="none" stroke="#493c8f" stroke-width="4.1" stroke-linejoin="round"/>
<polygon points="1415.94,542.8 1425.1,558.07 1415.94,573.35 1406.77,558.07" fill="none" stroke="#493c8f" stroke-width="4.1" stroke-linejoin="round"/>
<polygon points="1453.02,634.98 1462.19,650.25 1453.02,665.53 1443.86,650.25" fill="none" stroke="#493c8f" stroke-width="4.1" stroke-linejoin="round"/>
<polygon points="1495.97,680.73 1505.14,696.01 1495.97,711.28 1486.81,696.01" fill="none" stroke="#493c8f" stroke-width="4.1" stroke-linejoin="round"/>
<polygon points="1540.1,724.64 1549.26,739.92 1540.1,755.19 1530.93,739.92" fill="none" stroke="#493c8f" stroke-width="4.1" stroke-linejoin="round"/>
<polygon points="1583.98,744.76 1593.15,760.03 1583.98,775.3 1574.82,760.03" fill="none" stroke="#493c8f" stroke-width="4.1" stroke-linejoin="round"/>
<polygon points="1633.98,752.8 1643.14,768.07 1633.98,783.35 1624.81,768.07" fill="none" stroke="#493c8f" stroke-width="4.1" stroke-linejoin="round"/>
<polygon points="1701.1,758.33 1710.26,773.61 1701.1,788.88 1691.94,773.61" fill="none" stroke="#493c8f" stroke-width="4.1" stroke-linejoin="round"/>
<polyline points="1152.61,772.48 1154.9,772.44 1157.2,772.39 1159.5,772.33 1161.8,772.25 1164.1,772.14 1166.4,772.02 1168.7,771.87 1171,771.68 1173.3,771.45 1175.59,771.17 1177.89,770.84 1180.19,770.45 1182.49,769.98 1184.79,769.43 1187.09,768.78 1189.39,768.02 1191.69,767.14 1193.99,766.12 1196.28,764.95 1198.58,763.59 1200.88,762.05 1203.18,760.29 1205.48,758.28 1207.78,756.02 1210.08,753.46 1212.38,750.59 1214.68,747.37 1216.97,743.77 1219.27,739.76 1221.57,735.3 1223.87,730.37 1226.17,724.92 1228.47,718.92 1230.77,712.32 1233.07,705.09 1235.37,697.2 1237.66,688.6 1239.96,679.25 1242.26,669.12 1244.56,658.17 1246.86,646.39 1249.16,633.73 1251.46,620.18 1253.76,605.74 1256.06,590.38 1258.35,574.13 1260.65,557 1262.95,539.03 1265.25,520.25 1267.55,500.74 1269.85,480.58 1272.15,459.87 1274.45,438.72 1276.75,417.27 1279.04,395.67 1281.34,374.08 1283.64,352.68 1285.94,331.63 1288.24,311.11 1290.54,291.31 1292.84,272.4 1295.14,254.53 1297.44,237.84 1299.73,222.49 1302.03,208.56 1304.33,196.17 1306.63,185.39 1308.93,176.28 1311.23,168.87 1313.53,163.18 1315.83,159.21 1318.12,156.95 1320.42,156.35 1322.72,157.37 1325.02,159.93 1327.32,163.95 1329.62,169.34 1331.92,176 1334.22,183.8 1336.52,192.64 1338.81,202.4 1341.11,212.95 1343.41,224.18 1345.71,235.98 1348.01,248.22 1350.31,260.82 1352.61,273.67 1354.91,286.69 1357.21,299.8 1359.5,312.93 1361.8,326 1364.1,338.98 1366.4,351.8 1368.7,364.44 1371,376.85 1373.3,389.01 1375.6,400.9 1377.9,412.5 1380.19,423.79 1382.49,434.76 1384.79,445.42 1387.09,455.75 1389.39,465.75 1391.69,475.43 1393.99,484.79 1396.29,493.83 1398.59,502.57 1400.88,510.99 1403.18,519.12 1405.48,526.95 1407.78,534.51 1410.08,541.79 1412.38,548.8 1414.68,555.56 1416.98,562.06 1419.28,568.33 1421.57,574.37 1423.87,580.18 1426.17,585.79 1428.47,591.18 1430.77,596.38 1433.07,601.38 1435.37,606.21 1437.67,610.86 1439.97,615.34 1442.26,619.66 1444.56,623.82 1446.86,627.83 1449.16,631.7 1451.46,635.44 1453.76,639.04 1456.06,642.52 1458.36,645.87 1460.66,649.11 1462.95,652.24 1465.25,655.26 1467.55,658.18 1469.85,661 1472.15,663.72 1474.45,666.36 1476.75,668.9 1479.05,671.37 1481.35,673.75 1483.64,676.06 1485.94,678.29 1488.24,680.45 1490.54,682.54 1492.84,684.56 1495.14,686.52 1497.44,688.43 1499.74,690.27 1502.04,692.05 1504.33,693.78 1506.63,695.46 1508.93,697.09 1511.23,698.67 1513.53,700.2 1515.83,701.69 1518.13,703.13 1520.43,704.54 1522.73,705.9 1525.02,707.22 1527.32,708.51 1529.62,709.76 1531.92,710.97 1534.22,712.15 1536.52,713.3 1538.82,714.42 1541.12,715.5 1543.42,716.56 1545.71,717.59 1548.01,718.59 1550.31,719.56 1552.61,720.51 1554.91,721.44 1557.21,722.34 1559.51,723.21 1561.81,724.07 1564.11,724.9 1566.4,725.71 1568.7,726.5 1571,727.27 1573.3,728.03 1575.6,728.76 1577.9,729.48 1580.2,730.18 1582.5,730.86 1584.8,731.52 1587.09,732.17 1589.39,732.81 1591.69,733.43 1593.99,734.03 1596.29,734.62 1598.59,735.2 1600.89,735.76 1603.19,736.32 1605.49,736.85 1607.78,737.38 1610.08,737.9 1612.38,738.4 1614.68,738.89 1616.98,739.37 1619.28,739.85 1621.58,740.31 1623.88,740.76 1626.18,741.2 1628.47,741.63 1630.77,742.06 1633.07,742.47 1635.37,742.87 1637.67,743.27 1639.97,743.66 1642.27,744.04 1644.57,744.42 1646.87,744.78 1649.16,745.14 1651.46,745.49 1653.76,745.83 1656.06,746.17 1658.36,746.5 1660.66,746.83 1662.96,747.15 1665.26,747.46 1667.55,747.76 1669.85,748.06 1672.15,748.36 1674.45,748.65 1676.75,748.93 1679.05,749.21 1681.35,749.48 1683.65,749.75 1685.95,750.01 1688.24,750.27 1690.54,750.52 1692.84,750.77 1695.14,751.02 1697.44,751.26 1699.74,751.49 1702.04,751.72" fill="none" stroke="#493c8f" stroke-width="3.8" stroke-linejoin="round"/>
<polygon points="1156.13,763.48 1158.55,770.94 1166.4,770.94 1160.05,775.55 1162.47,783.01 1156.13,778.4 1149.78,783.01 1152.2,775.55 1145.85,770.94 1153.7,770.94" fill="none" stroke="#241eae" stroke-width="4.1" stroke-linejoin="round"/>
<polygon points="1164.34,764.31 1166.77,771.78 1174.61,771.78 1168.26,776.39 1170.69,783.85 1164.34,779.24 1157.99,783.85 1160.42,776.39 1154.07,771.78 1161.92,771.78" fill="none" stroke="#241eae" stroke-width="4.1" stroke-linejoin="round"/>
<polygon points="1172.56,764.31 1174.98,771.78 1182.83,771.78 1176.48,776.39 1178.9,783.85 1172.56,779.24 1166.21,783.85 1168.63,776.39 1162.28,771.78 1170.13,771.78" fill="none" stroke="#241eae" stroke-width="4.1" stroke-linejoin="round"/>
<polygon points="1180.77,763.48 1183.19,770.94 1191.04,770.94 1184.69,775.55 1187.12,783.01 1180.77,778.4 1174.42,783.01 1176.85,775.55 1170.5,770.94 1178.34,770.94" fill="none" stroke="#241eae" stroke-width="4.1" stroke-linejoin="round"/>
<polygon points="1188.98,761.8 1191.41,769.26 1199.26,769.26 1192.91,773.87 1195.33,781.34 1188.98,776.73 1182.64,781.34 1185.06,773.87 1178.71,769.26 1186.56,769.26" fill="none" stroke="#241eae" stroke-width="4.1" stroke-linejoin="round"/>
<polygon points="1198.37,758.45 1200.8,765.91 1208.64,765.91 1202.3,770.52 1204.72,777.99 1198.37,773.37 1192.02,777.99 1194.45,770.52 1188.1,765.91 1195.95,765.91" fill="none" stroke="#241eae" stroke-width="4.1" stroke-linejoin="round"/>
<polygon points="1207.76,753.42 1210.18,760.88 1218.03,760.88 1211.68,765.49 1214.11,772.96 1207.76,768.35 1201.41,772.96 1203.84,765.49 1197.49,760.88 1205.34,760.88" fill="none" stroke="#241eae" stroke-width="4.1" stroke-linejoin="round"/>
<polygon points="1246.95,585.15 1249.38,592.61 1257.23,592.61 1250.88,597.22 1253.3,604.69 1246.95,600.07 1240.61,604.69 1243.03,597.22 1236.68,592.61 1244.53,592.61" fill="none" stroke="#241eae" stroke-width="4.1" stroke-linejoin="round"/>
<polygon points="1270.89,409.17 1273.32,416.63 1281.17,416.63 1274.82,421.24 1277.24,428.71 1270.89,424.09 1264.55,428.71 1266.97,421.24 1260.62,416.63 1268.47,416.63" fill="none" stroke="#241eae" stroke-width="4.1" stroke-linejoin="round"/>
<polygon points="1295.07,213.08 1297.49,220.54 1305.34,220.54 1298.99,225.15 1301.42,232.61 1295.07,228 1288.72,232.61 1291.15,225.15 1284.8,220.54 1292.64,220.54" fill="none" stroke="#241eae" stroke-width="4.1" stroke-linejoin="round"/>
<polygon points="1317.83,111.85 1320.26,119.31 1328.11,119.31 1321.76,123.92 1324.18,131.38 1317.83,126.77 1311.49,131.38 1313.91,123.92 1307.56,119.31 1315.41,119.31" fill="none" stroke="#241eae" stroke-width="4.1" stroke-linejoin="round"/>
<polygon points="1340.83,115.37 1343.26,122.83 1351.11,122.83 1344.76,127.44 1347.18,134.9 1340.83,130.29 1334.49,134.9 1336.91,127.44 1330.56,122.83 1338.41,122.83" fill="none" stroke="#241eae" stroke-width="4.1" stroke-linejoin="round"/>
<polygon points="1363.6,225.82 1366.03,233.28 1373.87,233.28 1367.52,237.89 1369.95,245.35 1363.6,240.74 1357.25,245.35 1359.68,237.89 1353.33,233.28 1361.18,233.28" fill="none" stroke="#241eae" stroke-width="4.1" stroke-linejoin="round"/>
<polygon points="1385.43,346.15 1387.85,353.61 1395.7,353.61 1389.35,358.23 1391.78,365.69 1385.43,361.08 1379.08,365.69 1381.5,358.23 1375.16,353.61 1383,353.61" fill="none" stroke="#241eae" stroke-width="4.1" stroke-linejoin="round"/>
<polygon points="1407.96,454.25 1410.38,461.72 1418.23,461.72 1411.88,466.33 1414.31,473.79 1407.96,469.18 1401.61,473.79 1404.04,466.33 1397.69,461.72 1405.53,461.72" fill="none" stroke="#241eae" stroke-width="4.1" stroke-linejoin="round"/>
<polygon points="1430.96,543.25 1433.38,550.71 1441.23,550.71 1434.88,555.32 1437.31,562.79 1430.96,558.17 1424.61,562.79 1427.04,555.32 1420.69,550.71 1428.53,550.71" fill="none" stroke="#241eae" stroke-width="4.1" stroke-linejoin="round"/>
<polygon points="1454.9,615.15 1457.32,622.61 1465.17,622.61 1458.82,627.22 1461.25,634.69 1454.9,630.08 1448.55,634.69 1450.98,627.22 1444.63,622.61 1452.47,622.61" fill="none" stroke="#241eae" stroke-width="4.1" stroke-linejoin="round"/>
<polygon points="1477.9,645.15 1480.32,652.61 1488.17,652.61 1481.82,657.23 1484.25,664.69 1477.9,660.08 1471.55,664.69 1473.98,657.23 1467.63,652.61 1475.47,652.61" fill="none" stroke="#241eae" stroke-width="4.1" stroke-linejoin="round"/>
<polygon points="1499.96,682.19 1502.39,689.65 1510.23,689.65 1503.88,694.26 1506.31,701.73 1499.96,697.12 1493.61,701.73 1496.04,694.26 1489.69,689.65 1497.54,689.65" fill="none" stroke="#241eae" stroke-width="4.1" stroke-linejoin="round"/>
<polygon points="1522.02,699.12 1524.45,706.58 1532.29,706.58 1525.95,711.19 1528.37,718.65 1522.02,714.04 1515.68,718.65 1518.1,711.19 1511.75,706.58 1519.6,706.58" fill="none" stroke="#241eae" stroke-width="4.1" stroke-linejoin="round"/>
<polygon points="1544.09,715.21 1546.51,722.67 1554.36,722.67 1548.01,727.28 1550.43,734.74 1544.09,730.13 1537.74,734.74 1540.16,727.28 1533.81,722.67 1541.66,722.67" fill="none" stroke="#241eae" stroke-width="4.1" stroke-linejoin="round"/>
<polygon points="1568.02,722.25 1570.45,729.71 1578.3,729.71 1571.95,734.32 1574.37,741.78 1568.02,737.17 1561.68,741.78 1564.1,734.32 1557.75,729.71 1565.6,729.71" fill="none" stroke="#241eae" stroke-width="4.1" stroke-linejoin="round"/>
<polygon points="1590.09,733.31 1592.51,740.77 1600.36,740.77 1594.01,745.38 1596.43,752.85 1590.09,748.23 1583.74,752.85 1586.16,745.38 1579.81,740.77 1587.66,740.77" fill="none" stroke="#241eae" stroke-width="4.1" stroke-linejoin="round"/>
<polygon points="1614.03,743.36 1616.45,750.83 1624.3,750.83 1617.95,755.44 1620.37,762.9 1614.03,758.29 1607.68,762.9 1610.1,755.44 1603.75,750.83 1611.6,750.83" fill="none" stroke="#241eae" stroke-width="4.1" stroke-linejoin="round"/>
<polygon points="1701.1,762.47 1703.52,769.93 1711.37,769.93 1705.02,774.55 1707.45,782.01 1701.1,777.4 1694.75,782.01 1697.18,774.55 1690.83,769.93 1698.67,769.93" fill="none" stroke="#241eae" stroke-width="4.1" stroke-linejoin="round"/>
<polyline points="1152.61,772.46 1154.9,772.41 1157.2,772.35 1159.5,772.28 1161.8,772.19 1164.1,772.07 1166.4,771.93 1168.7,771.75 1171,771.54 1173.3,771.28 1175.59,770.97 1177.89,770.6 1180.19,770.16 1182.49,769.64 1184.79,769.02 1187.09,768.31 1189.39,767.47 1191.69,766.5 1193.99,765.38 1196.28,764.1 1198.58,762.62 1200.88,760.94 1203.18,759.03 1205.48,756.86 1207.78,754.41 1210.08,751.66 1212.38,748.57 1214.68,745.11 1216.97,741.26 1219.27,736.98 1221.57,732.23 1223.87,726.99 1226.17,721.2 1228.47,714.84 1230.77,707.87 1233.07,700.24 1235.37,691.92 1237.66,682.87 1239.96,673.05 1242.26,662.42 1244.56,650.95 1246.86,638.6 1249.16,625.36 1251.46,611.2 1253.76,596.1 1256.06,580.06 1258.35,563.07 1260.65,545.16 1262.95,526.34 1265.25,506.66 1267.55,486.17 1269.85,464.95 1272.15,443.08 1274.45,420.67 1276.75,397.84 1279.04,374.73 1281.34,351.5 1283.64,328.31 1285.94,305.33 1288.24,282.74 1290.54,260.71 1292.84,239.43 1295.14,219.07 1297.44,199.78 1299.73,181.71 1302.03,165 1304.33,149.75 1306.63,136.07 1308.93,124.03 1311.23,113.7 1313.53,105.12 1315.83,98.3 1318.12,93.26 1320.42,89.98 1322.72,88.43 1325.02,88.57 1327.32,90.33 1329.62,93.64 1331.92,98.41 1334.22,104.54 1336.52,111.93 1338.81,120.47 1341.11,130.03 1343.41,140.51 1345.71,151.78 1348.01,163.72 1350.31,176.23 1352.61,189.2 1354.91,202.53 1357.21,216.12 1359.5,229.89 1361.8,243.76 1364.1,257.66 1366.4,271.52 1368.7,285.3 1371,298.94 1373.3,312.39 1375.6,325.64 1377.9,338.63 1380.19,351.37 1382.49,363.81 1384.79,375.95 1387.09,387.78 1389.39,399.29 1391.69,410.47 1393.99,421.32 1396.29,431.84 1398.59,442.04 1400.88,451.91 1403.18,461.46 1405.48,470.7 1407.78,479.62 1410.08,488.25 1412.38,496.58 1414.68,504.62 1416.98,512.38 1419.28,519.88 1421.57,527.11 1423.87,534.09 1426.17,540.82 1428.47,547.32 1430.77,553.58 1433.07,559.63 1435.37,565.47 1437.67,571.1 1439.97,576.53 1442.26,581.78 1444.56,586.84 1446.86,591.73 1449.16,596.45 1451.46,601 1453.76,605.4 1456.06,609.65 1458.36,613.76 1460.66,617.73 1462.95,621.56 1465.25,625.27 1467.55,628.85 1469.85,632.32 1472.15,635.67 1474.45,638.92 1476.75,642.05 1479.05,645.09 1481.35,648.03 1483.64,650.88 1485.94,653.63 1488.24,656.3 1490.54,658.89 1492.84,661.39 1495.14,663.82 1497.44,666.18 1499.74,668.46 1502.04,670.68 1504.33,672.83 1506.63,674.91 1508.93,676.93 1511.23,678.9 1513.53,680.8 1515.83,682.65 1518.13,684.45 1520.43,686.2 1522.73,687.9 1525.02,689.55 1527.32,691.15 1529.62,692.71 1531.92,694.22 1534.22,695.7 1536.52,697.13 1538.82,698.53 1541.12,699.89 1543.42,701.21 1545.71,702.49 1548.01,703.75 1550.31,704.97 1552.61,706.16 1554.91,707.31 1557.21,708.44 1559.51,709.54 1561.81,710.61 1564.11,711.66 1566.4,712.68 1568.7,713.67 1571,714.64 1573.3,715.59 1575.6,716.51 1577.9,717.41 1580.2,718.29 1582.5,719.15 1584.8,719.98 1587.09,720.8 1589.39,721.6 1591.69,722.38 1593.99,723.14 1596.29,723.89 1598.59,724.62 1600.89,725.33 1603.19,726.02 1605.49,726.7 1607.78,727.37 1610.08,728.02 1612.38,728.65 1614.68,729.28 1616.98,729.88 1619.28,730.48 1621.58,731.06 1623.88,731.63 1626.18,732.19 1628.47,732.74 1630.77,733.27 1633.07,733.8 1635.37,734.31 1637.67,734.82 1639.97,735.31 1642.27,735.79 1644.57,736.26 1646.87,736.73 1649.16,737.18 1651.46,737.63 1653.76,738.06 1656.06,738.49 1658.36,738.91 1660.66,739.32 1662.96,739.73 1665.26,740.12 1667.55,740.51 1669.85,740.89 1672.15,741.27 1674.45,741.63 1676.75,741.99 1679.05,742.35 1681.35,742.69 1683.65,743.03 1685.95,743.37 1688.24,743.7 1690.54,744.02 1692.84,744.34 1695.14,744.65 1697.44,744.95 1699.74,745.25 1702.04,745.55" fill="none" stroke="#241eae" stroke-width="3.8" stroke-linejoin="round"/>
<polygon points="1151.35,762.64 1158.55,762.64 1158.55,769.84 1165.75,769.84 1165.75,777.04 1158.55,777.04 1158.55,784.24 1151.35,784.24 1151.35,777.04 1144.15,777.04 1144.15,769.84 1151.35,769.84" fill="none" stroke="#0000cd" stroke-width="4.1" stroke-linejoin="round"/>
<polygon points="1158.39,763.48 1165.59,763.48 1165.59,770.68 1172.79,770.68 1172.79,777.88 1165.59,777.88 1165.59,785.08 1158.39,785.08 1158.39,777.88 1151.19,777.88 1151.19,770.68 1158.39,770.68" fill="none" stroke="#0000cd" stroke-width="4.1" stroke-linejoin="round"/>
<polygon points="1165.43,764.31 1172.63,764.31 1172.63,771.51 1179.83,771.51 1179.83,778.71 1172.63,778.71 1172.63,785.91 1165.43,785.91 1165.43,778.71 1158.23,778.71 1158.23,771.51 1165.43,771.51" fill="none" stroke="#0000cd" stroke-width="4.1" stroke-linejoin="round"/>
<polygon points="1172.48,764.31 1179.68,764.31 1179.68,771.51 1186.88,771.51 1186.88,778.71 1179.68,778.71 1179.68,785.91 1172.48,785.91 1172.48,778.71 1165.28,778.71 1165.28,771.51 1172.48,771.51" fill="none" stroke="#0000cd" stroke-width="4.1" stroke-linejoin="round"/>
<polygon points="1179.52,763.81 1186.72,763.81 1186.72,771.01 1193.92,771.01 1193.92,778.21 1186.72,778.21 1186.72,785.41 1179.52,785.41 1179.52,778.21 1172.32,778.21 1172.32,771.01 1179.52,771.01" fill="none" stroke="#0000cd" stroke-width="4.1" stroke-linejoin="round"/>
<polygon points="1186.56,762.64 1193.76,762.64 1193.76,769.84 1200.96,769.84 1200.96,777.04 1193.76,777.04 1193.76,784.24 1186.56,784.24 1186.56,777.04 1179.36,777.04 1179.36,769.84 1186.56,769.84" fill="none" stroke="#0000cd" stroke-width="4.1" stroke-linejoin="round"/>
<polygon points="1196.88,745.88 1204.08,745.88 1204.08,753.08 1211.28,753.08 1211.28,760.28 1204.08,760.28 1204.08,767.48 1196.88,767.48 1196.88,760.28 1189.68,760.28 1189.68,753.08 1196.88,753.08" fill="none" stroke="#0000cd" stroke-width="4.1" stroke-linejoin="round"/>
<polygon points="1211.91,712.36 1219.11,712.36 1219.11,719.56 1226.31,719.56 1226.31,726.76 1219.11,726.76 1219.11,733.96 1211.91,733.96 1211.91,726.76 1204.71,726.76 1204.71,719.56 1211.91,719.56" fill="none" stroke="#0000cd" stroke-width="4.1" stroke-linejoin="round"/>
<polygon points="1236.31,663.25 1243.51,663.25 1243.51,670.45 1250.71,670.45 1250.71,677.65 1243.51,677.65 1243.51,684.85 1236.31,684.85 1236.31,677.65 1229.11,677.65 1229.11,670.45 1236.31,670.45" fill="none" stroke="#0000cd" stroke-width="4.1" stroke-linejoin="round"/>
<polygon points="1260.49,538.89 1267.69,538.89 1267.69,546.09 1274.89,546.09 1274.89,553.29 1267.69,553.29 1267.69,560.49 1260.49,560.49 1260.49,553.29 1253.29,553.29 1253.29,546.09 1260.49,546.09" fill="none" stroke="#0000cd" stroke-width="4.1" stroke-linejoin="round"/>
<polygon points="1284.43,415.2 1291.63,415.2 1291.63,422.4 1298.83,422.4 1298.83,429.6 1291.63,429.6 1291.63,436.8 1284.43,436.8 1284.43,429.6 1277.23,429.6 1277.23,422.4 1284.43,422.4" fill="none" stroke="#0000cd" stroke-width="4.1" stroke-linejoin="round"/>
<polygon points="1306.02,311.63 1313.22,311.63 1313.22,318.83 1320.42,318.83 1320.42,326.03 1313.22,326.03 1313.22,333.23 1306.02,333.23 1306.02,326.03 1298.82,326.03 1298.82,318.83 1306.02,318.83" fill="none" stroke="#0000cd" stroke-width="4.1" stroke-linejoin="round"/>
<polygon points="1329.49,318.16 1336.69,318.16 1336.69,325.36 1343.89,325.36 1343.89,332.56 1336.69,332.56 1336.69,339.76 1329.49,339.76 1329.49,332.56 1322.29,332.56 1322.29,325.36 1329.49,325.36" fill="none" stroke="#0000cd" stroke-width="4.1" stroke-linejoin="round"/>
<polygon points="1364.46,434.14 1371.66,434.14 1371.66,441.34 1378.86,441.34 1378.86,448.54 1371.66,448.54 1371.66,455.74 1364.46,455.74 1364.46,448.54 1357.26,448.54 1357.26,441.34 1364.46,441.34" fill="none" stroke="#0000cd" stroke-width="4.1" stroke-linejoin="round"/>
<polygon points="1399.43,553.14 1406.63,553.14 1406.63,560.34 1413.83,560.34 1413.83,567.54 1406.63,567.54 1406.63,574.74 1399.43,574.74 1399.43,567.54 1392.23,567.54 1392.23,560.34 1399.43,560.34" fill="none" stroke="#0000cd" stroke-width="4.1" stroke-linejoin="round"/>
<polygon points="1434.4,637.27 1441.6,637.27 1441.6,644.47 1448.8,644.47 1448.8,651.67 1441.6,651.67 1441.6,658.87 1434.4,658.87 1434.4,651.67 1427.2,651.67 1427.2,644.47 1434.4,644.47" fill="none" stroke="#0000cd" stroke-width="4.1" stroke-linejoin="round"/>
<polygon points="1469.37,682.19 1476.57,682.19 1476.57,689.39 1483.77,689.39 1483.77,696.59 1476.57,696.59 1476.57,703.79 1469.37,703.79 1469.37,696.59 1462.17,696.59 1462.17,689.39 1469.37,689.39" fill="none" stroke="#0000cd" stroke-width="4.1" stroke-linejoin="round"/>
<polygon points="1506.45,715.21 1513.65,715.21 1513.65,722.41 1520.85,722.41 1520.85,729.61 1513.65,729.61 1513.65,736.81 1506.45,736.81 1506.45,729.61 1499.25,729.61 1499.25,722.41 1506.45,722.41" fill="none" stroke="#0000cd" stroke-width="4.1" stroke-linejoin="round"/>
<polygon points="1538.37,723.25 1545.57,723.25 1545.57,730.45 1552.77,730.45 1552.77,737.65 1545.57,737.65 1545.57,744.85 1538.37,744.85 1538.37,737.65 1531.17,737.65 1531.17,730.45 1538.37,730.45" fill="none" stroke="#0000cd" stroke-width="4.1" stroke-linejoin="round"/>
<polygon points="1572.4,737.16 1579.6,737.16 1579.6,744.36 1586.8,744.36 1586.8,751.56 1579.6,751.56 1579.6,758.76 1572.4,758.76 1572.4,751.56 1565.2,751.56 1565.2,744.36 1572.4,744.36" fill="none" stroke="#0000cd" stroke-width="4.1" stroke-linejoin="round"/>
<polygon points="1608.31,751.24 1615.51,751.24 1615.51,758.44 1622.71,758.44 1622.71,765.64 1615.51,765.64 1615.51,772.84 1608.31,772.84 1608.31,765.64 1601.11,765.64 1601.11,758.44 1608.31,758.44" fill="none" stroke="#0000cd" stroke-width="4.1" stroke-linejoin="round"/>
<polygon points="1649.39,755.26 1656.59,755.26 1656.59,762.46 1663.79,762.46 1663.79,769.66 1656.59,769.66 1656.59,776.86 1649.39,776.86 1649.39,769.66 1642.19,769.66 1642.19,762.46 1649.39,762.46" fill="none" stroke="#0000cd" stroke-width="4.1" stroke-linejoin="round"/>
<polygon points="1697.5,762.14 1704.7,762.14 1704.7,769.34 1711.9,769.34 1711.9,776.54 1704.7,776.54 1704.7,783.74 1697.5,783.74 1697.5,776.54 1690.3,776.54 1690.3,769.34 1697.5,769.34" fill="none" stroke="#0000cd" stroke-width="4.1" stroke-linejoin="round"/>
<polyline points="1152.61,772.44 1154.9,772.39 1157.2,772.33 1159.5,772.26 1161.8,772.16 1164.1,772.04 1166.4,771.9 1168.7,771.72 1171,771.51 1173.3,771.26 1175.59,770.96 1177.89,770.6 1180.19,770.18 1182.49,769.69 1184.79,769.11 1187.09,768.44 1189.39,767.67 1191.69,766.78 1193.99,765.75 1196.28,764.58 1198.58,763.25 1200.88,761.74 1203.18,760.03 1205.48,758.11 1207.78,755.96 1210.08,753.54 1212.38,750.85 1214.68,747.86 1216.97,744.54 1219.27,740.87 1221.57,736.82 1223.87,732.37 1226.17,727.49 1228.47,722.15 1230.77,716.34 1233.07,710.01 1235.37,703.14 1237.66,695.72 1239.96,687.71 1242.26,679.1 1244.56,669.87 1246.86,660.01 1249.16,649.51 1251.46,638.36 1253.76,626.58 1256.06,614.17 1258.35,601.15 1260.65,587.57 1262.95,573.46 1265.25,558.87 1267.55,543.88 1269.85,528.55 1272.15,512.99 1274.45,497.29 1276.75,481.55 1279.04,465.89 1281.34,450.44 1283.64,435.31 1285.94,420.62 1288.24,406.49 1290.54,393.04 1292.84,380.36 1295.14,368.56 1297.44,357.71 1299.73,347.88 1302.03,339.15 1304.33,331.54 1306.63,325.1 1308.93,319.84 1311.23,315.79 1313.53,312.92 1315.83,311.23 1318.12,310.69 1320.42,311.27 1322.72,312.92 1325.02,315.58 1327.32,319.18 1329.62,323.68 1331.92,328.98 1334.22,335.01 1336.52,341.69 1338.81,348.95 1341.11,356.7 1343.41,364.88 1345.71,373.4 1348.01,382.19 1350.31,391.2 1352.61,400.36 1354.91,409.61 1357.21,418.91 1359.5,428.21 1361.8,437.47 1364.1,446.66 1366.4,455.74 1368.7,464.7 1371,473.5 1373.3,482.14 1375.6,490.59 1377.9,498.84 1380.19,506.9 1382.49,514.74 1384.79,522.36 1387.09,529.77 1389.39,536.96 1391.69,543.93 1393.99,550.68 1396.29,557.21 1398.59,563.54 1400.88,569.66 1403.18,575.57 1405.48,581.28 1407.78,586.8 1410.08,592.13 1412.38,597.28 1414.68,602.24 1416.98,607.04 1419.28,611.67 1421.57,616.14 1423.87,620.45 1426.17,624.61 1428.47,628.63 1430.77,632.5 1433.07,636.24 1435.37,639.86 1437.67,643.34 1439.97,646.71 1442.26,649.96 1444.56,653.1 1446.86,656.14 1449.16,659.07 1451.46,661.9 1453.76,664.64 1456.06,667.28 1458.36,669.84 1460.66,672.32 1462.95,674.71 1465.25,677.02 1467.55,679.26 1469.85,681.43 1472.15,683.53 1474.45,685.56 1476.75,687.53 1479.05,689.43 1481.35,691.28 1483.64,693.07 1485.94,694.8 1488.24,696.48 1490.54,698.11 1492.84,699.69 1495.14,701.22 1497.44,702.71 1499.74,704.15 1502.04,705.55 1504.33,706.91 1506.63,708.23 1508.93,709.51 1511.23,710.76 1513.53,711.97 1515.83,713.14 1518.13,714.29 1520.43,715.4 1522.73,716.48 1525.02,717.53 1527.32,718.55 1529.62,719.54 1531.92,720.51 1534.22,721.45 1536.52,722.37 1538.82,723.26 1541.12,724.13 1543.42,724.98 1545.71,725.81 1548.01,726.61 1550.31,727.39 1552.61,728.16 1554.91,728.9 1557.21,729.63 1559.51,730.34 1561.81,731.03 1564.11,731.7 1566.4,732.36 1568.7,733 1571,733.62 1573.3,734.24 1575.6,734.83 1577.9,735.42 1580.2,735.98 1582.5,736.54 1584.8,737.08 1587.09,737.61 1589.39,738.13 1591.69,738.64 1593.99,739.14 1596.29,739.62 1598.59,740.09 1600.89,740.56 1603.19,741.01 1605.49,741.45 1607.78,741.89 1610.08,742.31 1612.38,742.73 1614.68,743.13 1616.98,743.53 1619.28,743.92 1621.58,744.3 1623.88,744.68 1626.18,745.04 1628.47,745.4 1630.77,745.75 1633.07,746.09 1635.37,746.43 1637.67,746.76 1639.97,747.09 1642.27,747.4 1644.57,747.71 1646.87,748.02 1649.16,748.32 1651.46,748.61 1653.76,748.9 1656.06,749.18 1658.36,749.46 1660.66,749.73 1662.96,750 1665.26,750.26 1667.55,750.52 1669.85,750.77 1672.15,751.02 1674.45,751.26 1676.75,751.5 1679.05,751.73 1681.35,751.96 1683.65,752.19 1685.95,752.41 1688.24,752.63 1690.54,752.84 1692.84,753.05 1695.14,753.26 1697.44,753.46 1699.74,753.66 1702.04,753.86" fill="none" stroke="#0000cd" stroke-width="3.8" stroke-linejoin="round"/>
</g>
<rect x="1416.4" y="73.2" width="295.0" height="364.2" rx="6.5" fill="#fff" fill-opacity="0.8" stroke="#d4d4d4" stroke-width="3.5"/>
<circle cx="1467" cy="103.3" r="10.8" fill="none" stroke="#dbb514" stroke-width="4.1" stroke-linejoin="round"/>
<text x="1534.2" y="113.8" font-size="38" text-anchor="start" fill="#000" font-style="italic">x</text>
<text x="1564.3" y="116.4" font-size="38" text-anchor="start" fill="#000" textLength="26.5" lengthAdjust="spacingAndGlyphs">=</text>
<text x="1601.4" y="113.8" font-size="37" text-anchor="start" fill="#000">0.00</text>
<text x="1666" y="113.8" font-size="36" text-anchor="start" fill="#000">%</text>
<rect x="1456.2" y="143.15" width="21.6" height="21.6" fill="none" stroke="#b69733" stroke-width="4.1" stroke-linejoin="round"/>
<text x="1534.2" y="164.45" font-size="38" text-anchor="start" fill="#000" font-style="italic">x</text>
<text x="1564.3" y="167.05" font-size="38" text-anchor="start" fill="#000" textLength="26.5" lengthAdjust="spacingAndGlyphs">=</text>
<text x="1601.4" y="164.45" font-size="37" text-anchor="start" fill="#000">12.5</text>
<text x="1666" y="164.45" font-size="36" text-anchor="start" fill="#000">%</text>
<polygon points="1467,193.8 1456.2,215.4 1477.8,215.4" fill="none" stroke="#927952" stroke-width="4.1" stroke-linejoin="round"/>
<text x="1534.2" y="215.1" font-size="38" text-anchor="start" fill="#000" font-style="italic">x</text>
<text x="1564.3" y="217.7" font-size="38" text-anchor="start" fill="#000" textLength="26.5" lengthAdjust="spacingAndGlyphs">=</text>
<text x="1601.4" y="215.1" font-size="37" text-anchor="start" fill="#000">25.0</text>
<text x="1666" y="215.1" font-size="36" text-anchor="start" fill="#000">%</text>
<polygon points="1467,244.45 1477.27,251.91 1473.35,263.99 1460.65,263.99 1456.73,251.91" fill="none" stroke="#6e5a70" stroke-width="4.1" stroke-linejoin="round"/>
<text x="1534.2" y="265.75" font-size="38" text-anchor="start" fill="#000" font-style="italic">x</text>
<text x="1564.3" y="268.35" font-size="38" text-anchor="start" fill="#000" textLength="26.5" lengthAdjust="spacingAndGlyphs">=</text>
<text x="1601.4" y="265.75" font-size="37" text-anchor="start" fill="#000">37.5</text>
<text x="1666" y="265.75" font-size="36" text-anchor="start" fill="#000">%</text>
<polygon points="1467,290.63 1476.16,305.9 1467,321.17 1457.84,305.9" fill="none" stroke="#493c8f" stroke-width="4.1" stroke-linejoin="round"/>
<text x="1534.2" y="316.4" font-size="38" text-anchor="start" fill="#000" font-style="italic">x</text>
<text x="1564.3" y="319" font-size="38" text-anchor="start" fill="#000" textLength="26.5" lengthAdjust="spacingAndGlyphs">=</text>
<text x="1601.4" y="316.4" font-size="37" text-anchor="start" fill="#000">50.0</text>
<text x="1666" y="316.4" font-size="36" text-anchor="start" fill="#000">%</text>
<polygon points="1467,345.75 1469.42,353.21 1477.27,353.21 1470.92,357.82 1473.35,365.29 1467,360.68 1460.65,365.29 1463.08,357.82 1456.73,353.21 1464.58,353.21" fill="none" stroke="#241eae" stroke-width="4.1" stroke-linejoin="round"/>
<text x="1534.2" y="367.05" font-size="38" text-anchor="start" fill="#000" font-style="italic">x</text>
<text x="1564.3" y="369.65" font-size="38" text-anchor="start" fill="#000" textLength="26.5" lengthAdjust="spacingAndGlyphs">=</text>
<text x="1601.4" y="367.05" font-size="37" text-anchor="start" fill="#000">75.0</text>
<text x="1666" y="367.05" font-size="36" text-anchor="start" fill="#000">%</text>
<polygon points="1463.4,396.4 1470.6,396.4 1470.6,403.6 1477.8,403.6 1477.8,410.8 1470.6,410.8 1470.6,418 1463.4,418 1463.4,410.8 1456.2,410.8 1456.2,403.6 1463.4,403.6" fill="none" stroke="#0000cd" stroke-width="4.1" stroke-linejoin="round"/>
<text x="1534.2" y="417.7" font-size="38" text-anchor="start" fill="#000" font-style="italic">x</text>
<text x="1564.3" y="420.3" font-size="38" text-anchor="start" fill="#000" textLength="26.5" lengthAdjust="spacingAndGlyphs">=</text>
<text x="1601.4" y="417.7" font-size="37" text-anchor="start" fill="#000">90.0</text>
<text x="1666" y="417.7" font-size="36" text-anchor="start" fill="#000">%</text>
<line x1="1109" y1="52.95" x2="1109" y2="810.25" stroke="#000" stroke-width="3.5"/>
<line x1="1729" y1="52.95" x2="1729" y2="810.25" stroke="#000" stroke-width="3.5"/>
<line x1="1107.25" y1="54.4" x2="1730.75" y2="54.4" stroke="#000" stroke-width="2.9"/>
<line x1="1107.25" y1="808.8" x2="1730.75" y2="808.8" stroke="#000" stroke-width="2.9"/>
<line x1="1137.35" y1="808.8" x2="1137.35" y2="822.4" stroke="#000" stroke-width="3.4"/>
<text x="1137.35" y="860.2" font-size="37" text-anchor="middle" fill="#000">50</text>
<line x1="1254.7" y1="808.8" x2="1254.7" y2="822.4" stroke="#000" stroke-width="3.4"/>
<text x="1254.7" y="860.2" font-size="37" text-anchor="middle" fill="#000">100</text>
<line x1="1372.05" y1="808.8" x2="1372.05" y2="822.4" stroke="#000" stroke-width="3.4"/>
<text x="1372.05" y="860.2" font-size="37" text-anchor="middle" fill="#000">150</text>
<line x1="1489.4" y1="808.8" x2="1489.4" y2="822.4" stroke="#000" stroke-width="3.4"/>
<text x="1489.4" y="860.2" font-size="37" text-anchor="middle" fill="#000">200</text>
<line x1="1606.75" y1="808.8" x2="1606.75" y2="822.4" stroke="#000" stroke-width="3.4"/>
<text x="1606.75" y="860.2" font-size="37" text-anchor="middle" fill="#000">250</text>
<line x1="1724.1" y1="808.8" x2="1724.1" y2="822.4" stroke="#000" stroke-width="3.4"/>
<text x="1724.1" y="860.2" font-size="37" text-anchor="middle" fill="#000">300</text>
<line x1="1096.8" y1="772.6" x2="1109" y2="772.6" stroke="#000" stroke-width="2.9"/>
<text x="1083.4" y="786" font-size="37" text-anchor="end" fill="#000">0</text>
<line x1="1096.8" y1="688.8" x2="1109" y2="688.8" stroke="#000" stroke-width="2.9"/>
<text x="1083.4" y="702.2" font-size="37" text-anchor="end" fill="#000">50</text>
<line x1="1096.8" y1="605" x2="1109" y2="605" stroke="#000" stroke-width="2.9"/>
<text x="1083.4" y="618.4" font-size="37" text-anchor="end" fill="#000">100</text>
<line x1="1096.8" y1="521.2" x2="1109" y2="521.2" stroke="#000" stroke-width="2.9"/>
<text x="1083.4" y="534.6" font-size="37" text-anchor="end" fill="#000">150</text>
<line x1="1096.8" y1="437.4" x2="1109" y2="437.4" stroke="#000" stroke-width="2.9"/>
<text x="1083.4" y="450.8" font-size="37" text-anchor="end" fill="#000">200</text>
<line x1="1096.8" y1="353.6" x2="1109" y2="353.6" stroke="#000" stroke-width="2.9"/>
<text x="1083.4" y="367" font-size="37" text-anchor="end" fill="#000">250</text>
<line x1="1096.8" y1="269.8" x2="1109" y2="269.8" stroke="#000" stroke-width="2.9"/>
<text x="1083.4" y="283.2" font-size="37" text-anchor="end" fill="#000">300</text>
<line x1="1096.8" y1="186" x2="1109" y2="186" stroke="#000" stroke-width="2.9"/>
<text x="1083.4" y="199.4" font-size="37" text-anchor="end" fill="#000">350</text>
<line x1="1096.8" y1="102.2" x2="1109" y2="102.2" stroke="#000" stroke-width="2.9"/>
<text x="1083.4" y="115.6" font-size="37" text-anchor="end" fill="#000">400</text>
<text x="1370.6" y="907.8" font-size="38" text-anchor="start" fill="#000" font-style="italic" textLength="26" lengthAdjust="spacingAndGlyphs">T</text>
<text x="1412.5" y="907.8" font-size="38" text-anchor="start" fill="#000">(K)</text>
<g transform="translate(1005.8,513.9) rotate(-90)">
<text x="-2" y="0" font-size="38" text-anchor="start" fill="#000">1</text>
<text x="16.3" y="7.5" font-size="49" text-anchor="start" fill="#000" textLength="20" lengthAdjust="spacingAndGlyphs">/</text>
<text x="40" y="0" font-size="38" text-anchor="start" fill="#000" font-style="italic">T</text>
<text x="58.5" y="7.2" font-size="27" text-anchor="start" fill="#000">1</text>
<text x="82.5" y="0" font-size="38" text-anchor="start" fill="#000">(</text>
<text x="101" y="0" font-size="38" text-anchor="start" fill="#000" font-style="italic">s</text>
<text x="118.5" y="-14.5" font-size="27" text-anchor="start" fill="#000">−1</text>
<text x="148.5" y="0" font-size="38" text-anchor="start" fill="#000">)</text>
</g>
<text x="929.2" y="27.9" font-size="37.3" text-anchor="start" fill="#000" font-weight="bold" textLength="50.9" lengthAdjust="spacing">(b)</text>
</svg>
</body></html>
